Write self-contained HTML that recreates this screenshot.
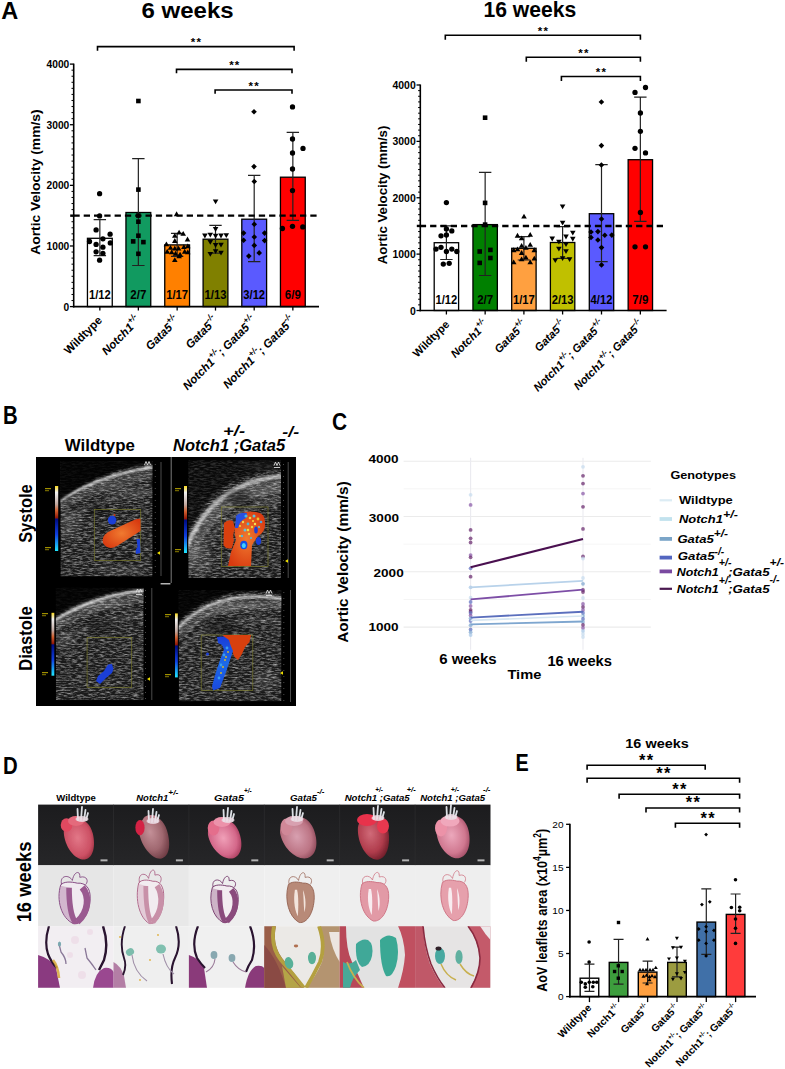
<!DOCTYPE html>
<html><head><meta charset="utf-8"><style>
html,body{margin:0;padding:0;background:#fff;width:785px;height:1069px;overflow:hidden}
svg{display:block}
text{font-family:"Liberation Sans",sans-serif}
</style></head><body>
<svg width="785" height="1069" viewBox="0 0 785 1069">
<rect width="785" height="1069" fill="#fff"/>
<text x="1.3" y="18.7" font-size="23.7" font-weight="bold" textLength="17" lengthAdjust="spacingAndGlyphs">A</text>
<text x="141.5" y="18.3" font-size="21.5" font-weight="bold" textLength="92.1" lengthAdjust="spacingAndGlyphs">6 weeks</text>
<rect x="87.45" y="238.3" width="24.8" height="68.3" fill="#ffffff" stroke="#000" stroke-width="1.3"/>
<rect x="125.95" y="212.5" width="24.8" height="94.1" fill="#119a60" stroke="#000" stroke-width="1.3"/>
<rect x="164.75" y="244.9" width="24.8" height="61.7" fill="#ff8000" stroke="#000" stroke-width="1.3"/>
<rect x="203.1" y="239.2" width="24.8" height="67.4" fill="#808000" stroke="#000" stroke-width="1.3"/>
<rect x="241.8" y="219.2" width="24.8" height="87.4" fill="#5a5aff" stroke="#000" stroke-width="1.3"/>
<rect x="280.45" y="177.2" width="24.8" height="129.4" fill="#ff0000" stroke="#000" stroke-width="1.3"/>
<path d="M99.85 219.7V255.6M93.65 219.7H106.05M93.65 255.6H106.05" stroke="#222" stroke-width="1.2" fill="none"/>
<path d="M138.35 158.6V265.5M132.15 158.6H144.55M132.15 265.5H144.55" stroke="#222" stroke-width="1.2" fill="none"/>
<path d="M177.15 233.4V256.4M170.95 233.4H183.35M170.95 256.4H183.35" stroke="#222" stroke-width="1.2" fill="none"/>
<path d="M215.5 225.3V253.1M209.3 225.3H221.7M209.3 253.1H221.7" stroke="#222" stroke-width="1.2" fill="none"/>
<path d="M254.2 175.4V261.7M248 175.4H260.4M248 261.7H260.4" stroke="#222" stroke-width="1.2" fill="none"/>
<path d="M292.85 132.4V220.4M286.65 132.4H299.05M286.65 220.4H299.05" stroke="#222" stroke-width="1.2" fill="none"/>
<line x1="70.2" y1="215.66" x2="319" y2="215.66" stroke="#000" stroke-width="2.4" stroke-dasharray="6.3 4.0" stroke-dashoffset="7.1"/>
<line x1="70.2" y1="215.66" x2="74.2" y2="215.66" stroke="#000" stroke-width="2.4"/>
<circle cx="99.6" cy="193.7" r="2.65" fill="#000"/>
<circle cx="99.6" cy="215.9" r="2.65" fill="#000"/>
<circle cx="96.1" cy="229.9" r="2.65" fill="#000"/>
<circle cx="110.1" cy="234.2" r="2.65" fill="#000"/>
<circle cx="102.9" cy="238.8" r="2.65" fill="#000"/>
<circle cx="89.5" cy="241.5" r="2.65" fill="#000"/>
<circle cx="110.3" cy="242.9" r="2.65" fill="#000"/>
<circle cx="96.1" cy="244.4" r="2.65" fill="#000"/>
<circle cx="102.9" cy="247.2" r="2.65" fill="#000"/>
<circle cx="96.1" cy="251.8" r="2.65" fill="#000"/>
<circle cx="102.9" cy="253.3" r="2.65" fill="#000"/>
<circle cx="99.6" cy="260.2" r="2.65" fill="#000"/>
<rect x="136.1" y="98.7" width="4.6" height="4.6" fill="#000"/>
<rect x="136.1" y="187.3" width="4.6" height="4.6" fill="#000"/>
<rect x="136.1" y="213.3" width="4.6" height="4.6" fill="#000"/>
<rect x="136.1" y="219.4" width="4.6" height="4.6" fill="#000"/>
<rect x="136.1" y="233.4" width="4.6" height="4.6" fill="#000"/>
<rect x="130.9" y="239.1" width="4.6" height="4.6" fill="#000"/>
<rect x="141.1" y="239.8" width="4.6" height="4.6" fill="#000"/>
<rect x="136.1" y="251.5" width="4.6" height="4.6" fill="#000"/>
<polygon points="176.6,211.28 173.8,216.15 179.4,216.15" fill="#000"/>
<polygon points="179.1,229.68 176.3,234.55 181.9,234.55" fill="#000"/>
<polygon points="183.2,230.88 180.4,235.75 186,235.75" fill="#000"/>
<polygon points="174.8,232.98 172,237.85 177.6,237.85" fill="#000"/>
<polygon points="187.5,236.58 184.7,241.45 190.3,241.45" fill="#000"/>
<polygon points="174.8,238.08 172,242.95 177.6,242.95" fill="#000"/>
<polygon points="166.4,241.38 163.6,246.25 169.2,246.25" fill="#000"/>
<polygon points="170.5,244.98 167.7,249.85 173.3,249.85" fill="#000"/>
<polygon points="174.8,245.68 172,250.55 177.6,250.55" fill="#000"/>
<polygon points="178.6,245.68 175.8,250.55 181.4,250.55" fill="#000"/>
<polygon points="183.9,244.18 181.1,249.05 186.7,249.05" fill="#000"/>
<polygon points="187.8,243.38 185,248.25 190.6,248.25" fill="#000"/>
<polygon points="167.2,248.78 164.4,253.65 170,253.65" fill="#000"/>
<polygon points="171.7,249.48 168.9,254.35 174.5,254.35" fill="#000"/>
<polygon points="175.5,250.78 172.7,255.65 178.3,255.65" fill="#000"/>
<polygon points="180.1,251.78 177.3,256.65 182.9,256.65" fill="#000"/>
<polygon points="184.7,248.78 181.9,253.65 187.5,253.65" fill="#000"/>
<polygon points="187.8,249.48 185,254.35 190.6,254.35" fill="#000"/>
<polygon points="174.8,257.18 172,262.05 177.6,262.05" fill="#000"/>
<polygon points="179.1,253.38 176.3,258.25 181.9,258.25" fill="#000"/>
<polygon points="215.6,204.32 212.8,199.45 218.4,199.45" fill="#000"/>
<polygon points="215.6,231.92 212.8,227.05 218.4,227.05" fill="#000"/>
<polygon points="204.9,238.42 202.1,233.55 207.7,233.55" fill="#000"/>
<polygon points="210.3,237.52 207.5,232.65 213.1,232.65" fill="#000"/>
<polygon points="215.6,238.72 212.8,233.85 218.4,233.85" fill="#000"/>
<polygon points="221,238.42 218.2,233.55 223.8,233.55" fill="#000"/>
<polygon points="226.3,238.02 223.5,233.15 229.1,233.15" fill="#000"/>
<polygon points="210.3,244.82 207.5,239.95 213.1,239.95" fill="#000"/>
<polygon points="215.6,247.92 212.8,243.05 218.4,243.05" fill="#000"/>
<polygon points="221,247.62 218.2,242.75 223.8,242.75" fill="#000"/>
<polygon points="215.6,254.02 212.8,249.15 218.4,249.15" fill="#000"/>
<polygon points="221,255.52 218.2,250.65 223.8,250.65" fill="#000"/>
<polygon points="210.3,256.82 207.5,251.95 213.1,251.95" fill="#000"/>
<polygon points="254,108.9 256.8,111.7 254,114.5 251.2,111.7" fill="#000"/>
<polygon points="254,163.8 256.8,166.6 254,169.4 251.2,166.6" fill="#000"/>
<polygon points="254.3,178.7 257.1,181.5 254.3,184.3 251.5,181.5" fill="#000"/>
<polygon points="254.3,221.5 257.1,224.3 254.3,227.1 251.5,224.3" fill="#000"/>
<polygon points="243.6,230.3 246.4,233.1 243.6,235.9 240.8,233.1" fill="#000"/>
<polygon points="264.6,230.3 267.4,233.1 264.6,235.9 261.8,233.1" fill="#000"/>
<polygon points="254.3,234.2 257.1,237 254.3,239.8 251.5,237" fill="#000"/>
<polygon points="243.6,237.5 246.4,240.3 243.6,243.1 240.8,240.3" fill="#000"/>
<polygon points="264.6,237.8 267.4,240.6 264.6,243.4 261.8,240.6" fill="#000"/>
<polygon points="254.3,242.6 257.1,245.4 254.3,248.2 251.5,245.4" fill="#000"/>
<polygon points="259.2,250.1 262,252.9 259.2,255.7 256.4,252.9" fill="#000"/>
<polygon points="248.8,253.3 251.6,256.1 248.8,258.9 246,256.1" fill="#000"/>
<circle cx="292.5" cy="106.9" r="2.65" fill="#000"/>
<circle cx="292.5" cy="139" r="2.65" fill="#000"/>
<circle cx="303" cy="148.4" r="2.65" fill="#000"/>
<circle cx="292.5" cy="153" r="2.65" fill="#000"/>
<circle cx="292.5" cy="169" r="2.65" fill="#000"/>
<circle cx="292.5" cy="190.6" r="2.65" fill="#000"/>
<circle cx="282.4" cy="228.5" r="2.65" fill="#000"/>
<circle cx="292.5" cy="226.3" r="2.65" fill="#000"/>
<circle cx="302.8" cy="226.9" r="2.65" fill="#000"/>
<line x1="73.7" y1="63.6" x2="73.7" y2="307.4" stroke="#000" stroke-width="1.6"/>
<line x1="72.9" y1="306.6" x2="319" y2="306.6" stroke="#000" stroke-width="1.6"/>
<line x1="69.9" y1="306.6" x2="73.7" y2="306.6" stroke="#000" stroke-width="1.3"/>
<line x1="71.5" y1="300.54" x2="73.7" y2="300.54" stroke="#000" stroke-width="1"/>
<line x1="71.5" y1="294.48" x2="73.7" y2="294.48" stroke="#000" stroke-width="1"/>
<line x1="71.5" y1="288.41" x2="73.7" y2="288.41" stroke="#000" stroke-width="1"/>
<line x1="71.5" y1="282.35" x2="73.7" y2="282.35" stroke="#000" stroke-width="1"/>
<line x1="71.5" y1="276.29" x2="73.7" y2="276.29" stroke="#000" stroke-width="1"/>
<line x1="71.5" y1="270.23" x2="73.7" y2="270.23" stroke="#000" stroke-width="1"/>
<line x1="71.5" y1="264.16" x2="73.7" y2="264.16" stroke="#000" stroke-width="1"/>
<line x1="71.5" y1="258.1" x2="73.7" y2="258.1" stroke="#000" stroke-width="1"/>
<line x1="71.5" y1="252.04" x2="73.7" y2="252.04" stroke="#000" stroke-width="1"/>
<line x1="69.9" y1="245.98" x2="73.7" y2="245.98" stroke="#000" stroke-width="1.3"/>
<line x1="71.5" y1="239.91" x2="73.7" y2="239.91" stroke="#000" stroke-width="1"/>
<line x1="71.5" y1="233.85" x2="73.7" y2="233.85" stroke="#000" stroke-width="1"/>
<line x1="71.5" y1="227.79" x2="73.7" y2="227.79" stroke="#000" stroke-width="1"/>
<line x1="71.5" y1="221.73" x2="73.7" y2="221.73" stroke="#000" stroke-width="1"/>
<line x1="71.5" y1="215.66" x2="73.7" y2="215.66" stroke="#000" stroke-width="1"/>
<line x1="71.5" y1="209.6" x2="73.7" y2="209.6" stroke="#000" stroke-width="1"/>
<line x1="71.5" y1="203.54" x2="73.7" y2="203.54" stroke="#000" stroke-width="1"/>
<line x1="71.5" y1="197.48" x2="73.7" y2="197.48" stroke="#000" stroke-width="1"/>
<line x1="71.5" y1="191.41" x2="73.7" y2="191.41" stroke="#000" stroke-width="1"/>
<line x1="69.9" y1="185.35" x2="73.7" y2="185.35" stroke="#000" stroke-width="1.3"/>
<line x1="71.5" y1="179.29" x2="73.7" y2="179.29" stroke="#000" stroke-width="1"/>
<line x1="71.5" y1="173.23" x2="73.7" y2="173.23" stroke="#000" stroke-width="1"/>
<line x1="71.5" y1="167.16" x2="73.7" y2="167.16" stroke="#000" stroke-width="1"/>
<line x1="71.5" y1="161.1" x2="73.7" y2="161.1" stroke="#000" stroke-width="1"/>
<line x1="71.5" y1="155.04" x2="73.7" y2="155.04" stroke="#000" stroke-width="1"/>
<line x1="71.5" y1="148.98" x2="73.7" y2="148.98" stroke="#000" stroke-width="1"/>
<line x1="71.5" y1="142.91" x2="73.7" y2="142.91" stroke="#000" stroke-width="1"/>
<line x1="71.5" y1="136.85" x2="73.7" y2="136.85" stroke="#000" stroke-width="1"/>
<line x1="71.5" y1="130.79" x2="73.7" y2="130.79" stroke="#000" stroke-width="1"/>
<line x1="69.9" y1="124.72" x2="73.7" y2="124.72" stroke="#000" stroke-width="1.3"/>
<line x1="71.5" y1="118.66" x2="73.7" y2="118.66" stroke="#000" stroke-width="1"/>
<line x1="71.5" y1="112.6" x2="73.7" y2="112.6" stroke="#000" stroke-width="1"/>
<line x1="71.5" y1="106.54" x2="73.7" y2="106.54" stroke="#000" stroke-width="1"/>
<line x1="71.5" y1="100.47" x2="73.7" y2="100.47" stroke="#000" stroke-width="1"/>
<line x1="71.5" y1="94.41" x2="73.7" y2="94.41" stroke="#000" stroke-width="1"/>
<line x1="71.5" y1="88.35" x2="73.7" y2="88.35" stroke="#000" stroke-width="1"/>
<line x1="71.5" y1="82.29" x2="73.7" y2="82.29" stroke="#000" stroke-width="1"/>
<line x1="71.5" y1="76.22" x2="73.7" y2="76.22" stroke="#000" stroke-width="1"/>
<line x1="71.5" y1="70.16" x2="73.7" y2="70.16" stroke="#000" stroke-width="1"/>
<line x1="69.9" y1="64.1" x2="73.7" y2="64.1" stroke="#000" stroke-width="1.3"/>
<line x1="99.85" y1="306.6" x2="99.85" y2="310.6" stroke="#000" stroke-width="1.3"/>
<line x1="138.35" y1="306.6" x2="138.35" y2="310.6" stroke="#000" stroke-width="1.3"/>
<line x1="177.15" y1="306.6" x2="177.15" y2="310.6" stroke="#000" stroke-width="1.3"/>
<line x1="215.5" y1="306.6" x2="215.5" y2="310.6" stroke="#000" stroke-width="1.3"/>
<line x1="254.2" y1="306.6" x2="254.2" y2="310.6" stroke="#000" stroke-width="1.3"/>
<line x1="292.85" y1="306.6" x2="292.85" y2="310.6" stroke="#000" stroke-width="1.3"/>
<text x="69.3" y="310.63" font-size="11.2" font-weight="bold" text-anchor="end" textLength="5.68" lengthAdjust="spacingAndGlyphs">0</text>
<text x="69.3" y="250.01" font-size="11.2" font-weight="bold" text-anchor="end" textLength="22.72" lengthAdjust="spacingAndGlyphs">1000</text>
<text x="69.3" y="189.38" font-size="11.2" font-weight="bold" text-anchor="end" textLength="22.72" lengthAdjust="spacingAndGlyphs">2000</text>
<text x="69.3" y="128.76" font-size="11.2" font-weight="bold" text-anchor="end" textLength="22.72" lengthAdjust="spacingAndGlyphs">3000</text>
<text x="69.3" y="68.13" font-size="11.2" font-weight="bold" text-anchor="end" textLength="22.72" lengthAdjust="spacingAndGlyphs">4000</text>
<polyline points="97.5,50.8 97.5,46.6 294.1,46.6 294.1,50.8" fill="none" stroke="#000" stroke-width="1.6"/>
<text x="195.8" y="46.3" font-size="11.5" font-weight="bold" text-anchor="middle" textLength="10.2" lengthAdjust="spacing">**</text>
<polyline points="176.5,73.2 176.5,69.4 292,69.4 292,73.2" fill="none" stroke="#000" stroke-width="1.6"/>
<text x="234.25" y="69.1" font-size="11.5" font-weight="bold" text-anchor="middle" textLength="10.2" lengthAdjust="spacing">**</text>
<polyline points="215.1,93.8 215.1,90 292,90 292,93.8" fill="none" stroke="#000" stroke-width="1.6"/>
<text x="253.55" y="89.7" font-size="11.5" font-weight="bold" text-anchor="middle" textLength="10.2" lengthAdjust="spacing">**</text>
<text x="0" y="0" font-size="12.8" font-weight="bold" text-anchor="middle" textLength="145.4" lengthAdjust="spacingAndGlyphs" transform="translate(40.2,182.1) rotate(-90)">Aortic Velocity (mm/s)</text>
<text x="99.85" y="298.8" font-size="12" font-weight="bold" text-anchor="middle" textLength="21.8" lengthAdjust="spacingAndGlyphs">1/12</text>
<text x="138.35" y="298.8" font-size="12" font-weight="bold" text-anchor="middle" textLength="16" lengthAdjust="spacingAndGlyphs">2/7</text>
<text x="177.15" y="298.8" font-size="12" font-weight="bold" text-anchor="middle" textLength="21.8" lengthAdjust="spacingAndGlyphs">1/17</text>
<text x="215.5" y="298.8" font-size="12" font-weight="bold" text-anchor="middle" textLength="21.8" lengthAdjust="spacingAndGlyphs">1/13</text>
<text x="254.2" y="298.8" font-size="12" font-weight="bold" text-anchor="middle" textLength="21.8" lengthAdjust="spacingAndGlyphs">3/12</text>
<text x="292.85" y="298.8" font-size="12" font-weight="bold" text-anchor="middle" textLength="16" lengthAdjust="spacingAndGlyphs">6/9</text>
<text x="0" y="0" font-size="11.6" font-weight="bold" font-style="normal" text-anchor="end" transform="translate(102.85,321) rotate(-45)"><tspan>Wildtype</tspan></text>
<text x="0" y="0" font-size="11.6" font-weight="bold" font-style="italic" text-anchor="end" transform="translate(141.35,321) rotate(-45)"><tspan>Notch1</tspan><tspan font-size="8.35" dy="-5.8">+/-</tspan></text>
<text x="0" y="0" font-size="11.6" font-weight="bold" font-style="italic" text-anchor="end" transform="translate(180.15,321) rotate(-45)"><tspan>Gata5</tspan><tspan font-size="8.35" dy="-5.8">+/-</tspan></text>
<text x="0" y="0" font-size="11.6" font-weight="bold" font-style="italic" text-anchor="end" transform="translate(218.5,321) rotate(-45)"><tspan>Gata5</tspan><tspan font-size="8.35" dy="-5.8">-/-</tspan></text>
<text x="0" y="0" font-size="11.6" font-weight="bold" font-style="italic" text-anchor="end" transform="translate(257.2,321) rotate(-45)"><tspan>Notch1</tspan><tspan font-size="8.35" dy="-5.8">+/-</tspan><tspan font-size="11.6" dy="5.8">; Gata5</tspan><tspan font-size="8.35" dy="-5.8">+/-</tspan></text>
<text x="0" y="0" font-size="11.6" font-weight="bold" font-style="italic" text-anchor="end" transform="translate(295.85,321) rotate(-45)"><tspan>Notch1</tspan><tspan font-size="8.35" dy="-5.8">+/-</tspan><tspan font-size="11.6" dy="5.8">; Gata5</tspan><tspan font-size="8.35" dy="-5.8">-/-</tspan></text>
<text x="483.4" y="17" font-size="21.5" font-weight="bold" textLength="92.8" lengthAdjust="spacingAndGlyphs">16 weeks</text>
<rect x="434.2" y="242.7" width="24.4" height="67.8" fill="#ffffff" stroke="#000" stroke-width="1.3"/>
<rect x="472.95" y="224.6" width="24.4" height="85.9" fill="#008000" stroke="#000" stroke-width="1.3"/>
<rect x="511.7" y="248.3" width="24.4" height="62.2" fill="#ffa040" stroke="#000" stroke-width="1.3"/>
<rect x="550.4" y="242.5" width="24.4" height="68" fill="#c0c000" stroke="#000" stroke-width="1.3"/>
<rect x="589.3" y="213.7" width="24.4" height="96.8" fill="#5a5aff" stroke="#000" stroke-width="1.3"/>
<rect x="628.15" y="159.7" width="24.4" height="150.8" fill="#ff0000" stroke="#000" stroke-width="1.3"/>
<path d="M446.4 225.9V259.5M440.2 225.9H452.6M440.2 259.5H452.6" stroke="#222" stroke-width="1.2" fill="none"/>
<path d="M485.15 172.3V275.5M478.95 172.3H491.35M478.95 275.5H491.35" stroke="#222" stroke-width="1.2" fill="none"/>
<path d="M523.9 236.6V260M517.7 236.6H530.1M517.7 260H530.1" stroke="#222" stroke-width="1.2" fill="none"/>
<path d="M562.6 226.7V258.3M556.4 226.7H568.8M556.4 258.3H568.8" stroke="#222" stroke-width="1.2" fill="none"/>
<path d="M601.5 164.6V261.6M595.3 164.6H607.7M595.3 261.6H607.7" stroke="#222" stroke-width="1.2" fill="none"/>
<path d="M640.35 97.2V221.3M634.15 97.2H646.55M634.15 221.3H646.55" stroke="#222" stroke-width="1.2" fill="none"/>
<line x1="416.8" y1="225.94" x2="666.6" y2="225.94" stroke="#000" stroke-width="2.4" stroke-dasharray="6.3 4.0" stroke-dashoffset="7.3"/>
<line x1="416.8" y1="225.94" x2="420.8" y2="225.94" stroke="#000" stroke-width="2.4"/>
<circle cx="446.4" cy="202.6" r="2.65" fill="#000"/>
<circle cx="446.4" cy="228.9" r="2.65" fill="#000"/>
<circle cx="451.8" cy="230.9" r="2.65" fill="#000"/>
<circle cx="441" cy="235.8" r="2.65" fill="#000"/>
<circle cx="446.4" cy="235" r="2.65" fill="#000"/>
<circle cx="441" cy="247.3" r="2.65" fill="#000"/>
<circle cx="436" cy="249.1" r="2.65" fill="#000"/>
<circle cx="451.8" cy="249.1" r="2.65" fill="#000"/>
<circle cx="446.4" cy="251.5" r="2.65" fill="#000"/>
<circle cx="456.8" cy="251.5" r="2.65" fill="#000"/>
<circle cx="443.3" cy="264.1" r="2.65" fill="#000"/>
<circle cx="449.2" cy="263.3" r="2.65" fill="#000"/>
<rect x="482.8" y="115.4" width="4.6" height="4.6" fill="#000"/>
<rect x="482.8" y="200.6" width="4.6" height="4.6" fill="#000"/>
<rect x="482.8" y="222.3" width="4.6" height="4.6" fill="#000"/>
<rect x="477.4" y="249.2" width="4.6" height="4.6" fill="#000"/>
<rect x="488.1" y="247.6" width="4.6" height="4.6" fill="#000"/>
<rect x="488.1" y="255.7" width="4.6" height="4.6" fill="#000"/>
<rect x="477.4" y="260.6" width="4.6" height="4.6" fill="#000"/>
<polygon points="524,213.68 521.2,218.55 526.8,218.55" fill="#000"/>
<polygon points="517.5,232.78 514.7,237.65 520.3,237.65" fill="#000"/>
<polygon points="530.2,231.98 527.4,236.85 533,236.85" fill="#000"/>
<polygon points="521.6,235.38 518.8,240.25 524.4,240.25" fill="#000"/>
<polygon points="521.6,242.98 518.8,247.85 524.4,247.85" fill="#000"/>
<polygon points="530.2,241.98 527.4,246.85 533,246.85" fill="#000"/>
<polygon points="513.7,247.28 510.9,252.15 516.5,252.15" fill="#000"/>
<polygon points="517.5,246.48 514.7,251.35 520.3,251.35" fill="#000"/>
<polygon points="525.9,244.98 523.1,249.85 528.7,249.85" fill="#000"/>
<polygon points="534.3,247.28 531.5,252.15 537.1,252.15" fill="#000"/>
<polygon points="521.6,250.08 518.8,254.95 524.4,254.95" fill="#000"/>
<polygon points="525.9,254.68 523.1,259.55 528.7,259.55" fill="#000"/>
<polygon points="521.6,256.48 518.8,261.35 524.4,261.35" fill="#000"/>
<polygon points="534.3,255.68 531.5,260.55 537.1,260.55" fill="#000"/>
<polygon points="513.7,259.48 510.9,264.35 516.5,264.35" fill="#000"/>
<polygon points="530.2,259.48 527.4,264.35 533,264.35" fill="#000"/>
<polygon points="562.6,209.32 559.8,204.45 565.4,204.45" fill="#000"/>
<polygon points="562.6,225.62 559.8,220.75 565.4,220.75" fill="#000"/>
<polygon points="572.8,235.62 570,230.75 575.6,230.75" fill="#000"/>
<polygon points="566,239.42 563.2,234.55 568.8,234.55" fill="#000"/>
<polygon points="552.2,241.42 549.4,236.55 555,236.55" fill="#000"/>
<polygon points="572.8,241.72 570,236.85 575.6,236.85" fill="#000"/>
<polygon points="558.9,244.52 556.1,239.65 561.7,239.65" fill="#000"/>
<polygon points="566,247.02 563.2,242.15 568.8,242.15" fill="#000"/>
<polygon points="558.9,251.62 556.1,246.75 561.7,246.75" fill="#000"/>
<polygon points="566,254.12 563.2,249.25 568.8,249.25" fill="#000"/>
<polygon points="555.3,263.12 552.5,258.25 558.1,258.25" fill="#000"/>
<polygon points="562.6,261.12 559.8,256.25 565.4,256.25" fill="#000"/>
<polygon points="569.6,262.12 566.8,257.25 572.4,257.25" fill="#000"/>
<polygon points="601.4,99.2 604.2,102 601.4,104.8 598.6,102" fill="#000"/>
<polygon points="601.4,142.8 604.2,145.6 601.4,148.4 598.6,145.6" fill="#000"/>
<polygon points="601.4,162.2 604.2,165 601.4,167.8 598.6,165" fill="#000"/>
<polygon points="601.5,216.2 604.3,219 601.5,221.8 598.7,219" fill="#000"/>
<polygon points="591,229.2 593.8,232 591,234.8 588.2,232" fill="#000"/>
<polygon points="597.9,228.8 600.7,231.6 597.9,234.4 595.1,231.6" fill="#000"/>
<polygon points="604.8,232.5 607.6,235.3 604.8,238.1 602,235.3" fill="#000"/>
<polygon points="611.8,232.3 614.6,235.1 611.8,237.9 609,235.1" fill="#000"/>
<polygon points="591,234.6 593.8,237.4 591,240.2 588.2,237.4" fill="#000"/>
<polygon points="597.9,237.2 600.7,240 597.9,242.8 595.1,240" fill="#000"/>
<polygon points="601.5,244.8 604.3,247.6 601.5,250.4 598.7,247.6" fill="#000"/>
<polygon points="601.5,262.1 604.3,264.9 601.5,267.7 598.7,264.9" fill="#000"/>
<circle cx="635" cy="92.4" r="2.65" fill="#000"/>
<circle cx="645.5" cy="87.5" r="2.65" fill="#000"/>
<circle cx="640.4" cy="113" r="2.65" fill="#000"/>
<circle cx="640.4" cy="131.3" r="2.65" fill="#000"/>
<circle cx="635" cy="148.3" r="2.65" fill="#000"/>
<circle cx="645.5" cy="152.9" r="2.65" fill="#000"/>
<circle cx="640.4" cy="212.5" r="2.65" fill="#000"/>
<circle cx="635" cy="246.8" r="2.65" fill="#000"/>
<circle cx="645.5" cy="246.8" r="2.65" fill="#000"/>
<line x1="420.3" y1="84.5" x2="420.3" y2="311.3" stroke="#000" stroke-width="1.6"/>
<line x1="419.5" y1="310.5" x2="666.6" y2="310.5" stroke="#000" stroke-width="1.6"/>
<line x1="416.5" y1="310.5" x2="420.3" y2="310.5" stroke="#000" stroke-width="1.3"/>
<line x1="418.1" y1="304.86" x2="420.3" y2="304.86" stroke="#000" stroke-width="1"/>
<line x1="418.1" y1="299.23" x2="420.3" y2="299.23" stroke="#000" stroke-width="1"/>
<line x1="418.1" y1="293.59" x2="420.3" y2="293.59" stroke="#000" stroke-width="1"/>
<line x1="418.1" y1="287.95" x2="420.3" y2="287.95" stroke="#000" stroke-width="1"/>
<line x1="418.1" y1="282.31" x2="420.3" y2="282.31" stroke="#000" stroke-width="1"/>
<line x1="418.1" y1="276.68" x2="420.3" y2="276.68" stroke="#000" stroke-width="1"/>
<line x1="418.1" y1="271.04" x2="420.3" y2="271.04" stroke="#000" stroke-width="1"/>
<line x1="418.1" y1="265.4" x2="420.3" y2="265.4" stroke="#000" stroke-width="1"/>
<line x1="418.1" y1="259.76" x2="420.3" y2="259.76" stroke="#000" stroke-width="1"/>
<line x1="416.5" y1="254.12" x2="420.3" y2="254.12" stroke="#000" stroke-width="1.3"/>
<line x1="418.1" y1="248.49" x2="420.3" y2="248.49" stroke="#000" stroke-width="1"/>
<line x1="418.1" y1="242.85" x2="420.3" y2="242.85" stroke="#000" stroke-width="1"/>
<line x1="418.1" y1="237.21" x2="420.3" y2="237.21" stroke="#000" stroke-width="1"/>
<line x1="418.1" y1="231.57" x2="420.3" y2="231.57" stroke="#000" stroke-width="1"/>
<line x1="418.1" y1="225.94" x2="420.3" y2="225.94" stroke="#000" stroke-width="1"/>
<line x1="418.1" y1="220.3" x2="420.3" y2="220.3" stroke="#000" stroke-width="1"/>
<line x1="418.1" y1="214.66" x2="420.3" y2="214.66" stroke="#000" stroke-width="1"/>
<line x1="418.1" y1="209.02" x2="420.3" y2="209.02" stroke="#000" stroke-width="1"/>
<line x1="418.1" y1="203.39" x2="420.3" y2="203.39" stroke="#000" stroke-width="1"/>
<line x1="416.5" y1="197.75" x2="420.3" y2="197.75" stroke="#000" stroke-width="1.3"/>
<line x1="418.1" y1="192.11" x2="420.3" y2="192.11" stroke="#000" stroke-width="1"/>
<line x1="418.1" y1="186.47" x2="420.3" y2="186.47" stroke="#000" stroke-width="1"/>
<line x1="418.1" y1="180.84" x2="420.3" y2="180.84" stroke="#000" stroke-width="1"/>
<line x1="418.1" y1="175.2" x2="420.3" y2="175.2" stroke="#000" stroke-width="1"/>
<line x1="418.1" y1="169.56" x2="420.3" y2="169.56" stroke="#000" stroke-width="1"/>
<line x1="418.1" y1="163.92" x2="420.3" y2="163.92" stroke="#000" stroke-width="1"/>
<line x1="418.1" y1="158.29" x2="420.3" y2="158.29" stroke="#000" stroke-width="1"/>
<line x1="418.1" y1="152.65" x2="420.3" y2="152.65" stroke="#000" stroke-width="1"/>
<line x1="418.1" y1="147.01" x2="420.3" y2="147.01" stroke="#000" stroke-width="1"/>
<line x1="416.5" y1="141.38" x2="420.3" y2="141.38" stroke="#000" stroke-width="1.3"/>
<line x1="418.1" y1="135.74" x2="420.3" y2="135.74" stroke="#000" stroke-width="1"/>
<line x1="418.1" y1="130.1" x2="420.3" y2="130.1" stroke="#000" stroke-width="1"/>
<line x1="418.1" y1="124.46" x2="420.3" y2="124.46" stroke="#000" stroke-width="1"/>
<line x1="418.1" y1="118.82" x2="420.3" y2="118.82" stroke="#000" stroke-width="1"/>
<line x1="418.1" y1="113.19" x2="420.3" y2="113.19" stroke="#000" stroke-width="1"/>
<line x1="418.1" y1="107.55" x2="420.3" y2="107.55" stroke="#000" stroke-width="1"/>
<line x1="418.1" y1="101.91" x2="420.3" y2="101.91" stroke="#000" stroke-width="1"/>
<line x1="418.1" y1="96.28" x2="420.3" y2="96.28" stroke="#000" stroke-width="1"/>
<line x1="418.1" y1="90.64" x2="420.3" y2="90.64" stroke="#000" stroke-width="1"/>
<line x1="416.5" y1="85" x2="420.3" y2="85" stroke="#000" stroke-width="1.3"/>
<line x1="446.4" y1="310.5" x2="446.4" y2="314.5" stroke="#000" stroke-width="1.3"/>
<line x1="485.15" y1="310.5" x2="485.15" y2="314.5" stroke="#000" stroke-width="1.3"/>
<line x1="523.9" y1="310.5" x2="523.9" y2="314.5" stroke="#000" stroke-width="1.3"/>
<line x1="562.6" y1="310.5" x2="562.6" y2="314.5" stroke="#000" stroke-width="1.3"/>
<line x1="601.5" y1="310.5" x2="601.5" y2="314.5" stroke="#000" stroke-width="1.3"/>
<line x1="640.35" y1="310.5" x2="640.35" y2="314.5" stroke="#000" stroke-width="1.3"/>
<text x="415.7" y="314.53" font-size="11.2" font-weight="bold" text-anchor="end" textLength="5.8" lengthAdjust="spacingAndGlyphs">0</text>
<text x="415.7" y="258.16" font-size="11.2" font-weight="bold" text-anchor="end" textLength="23.2" lengthAdjust="spacingAndGlyphs">1000</text>
<text x="415.7" y="201.78" font-size="11.2" font-weight="bold" text-anchor="end" textLength="23.2" lengthAdjust="spacingAndGlyphs">2000</text>
<text x="415.7" y="145.41" font-size="11.2" font-weight="bold" text-anchor="end" textLength="23.2" lengthAdjust="spacingAndGlyphs">3000</text>
<text x="415.7" y="89.03" font-size="11.2" font-weight="bold" text-anchor="end" textLength="23.2" lengthAdjust="spacingAndGlyphs">4000</text>
<polyline points="445.3,39.8 445.3,35.3 640.4,35.3 640.4,39.8" fill="none" stroke="#000" stroke-width="1.6"/>
<text x="542.85" y="35" font-size="11.5" font-weight="bold" text-anchor="middle" textLength="10.2" lengthAdjust="spacing">**</text>
<polyline points="526.3,61.7 526.3,57.2 640.4,57.2 640.4,61.7" fill="none" stroke="#000" stroke-width="1.6"/>
<text x="583.35" y="56.9" font-size="11.5" font-weight="bold" text-anchor="middle" textLength="10.2" lengthAdjust="spacing">**</text>
<polyline points="561.4,81 561.4,76.5 640.4,76.5 640.4,81" fill="none" stroke="#000" stroke-width="1.6"/>
<text x="600.9" y="76.2" font-size="11.5" font-weight="bold" text-anchor="middle" textLength="10.2" lengthAdjust="spacing">**</text>
<text x="0" y="0" font-size="12.4" font-weight="bold" text-anchor="middle" textLength="138.6" lengthAdjust="spacingAndGlyphs" transform="translate(386.6,195) rotate(-90)">Aortic Velocity (mm/s)</text>
<text x="446.4" y="304.4" font-size="12" font-weight="bold" text-anchor="middle" textLength="21.8" lengthAdjust="spacingAndGlyphs">1/12</text>
<text x="485.15" y="304.4" font-size="12" font-weight="bold" text-anchor="middle" textLength="16" lengthAdjust="spacingAndGlyphs">2/7</text>
<text x="523.9" y="304.4" font-size="12" font-weight="bold" text-anchor="middle" textLength="21.8" lengthAdjust="spacingAndGlyphs">1/17</text>
<text x="562.6" y="304.4" font-size="12" font-weight="bold" text-anchor="middle" textLength="21.8" lengthAdjust="spacingAndGlyphs">2/13</text>
<text x="601.5" y="304.4" font-size="12" font-weight="bold" text-anchor="middle" textLength="21.8" lengthAdjust="spacingAndGlyphs">4/12</text>
<text x="640.35" y="304.4" font-size="12" font-weight="bold" text-anchor="middle" textLength="16" lengthAdjust="spacingAndGlyphs">7/9</text>
<text x="0" y="0" font-size="11.2" font-weight="bold" font-style="normal" text-anchor="end" transform="translate(450.2,325) rotate(-45)"><tspan>Wildtype</tspan></text>
<text x="0" y="0" font-size="11.2" font-weight="bold" font-style="italic" text-anchor="end" transform="translate(488.95,325) rotate(-45)"><tspan>Notch1</tspan><tspan font-size="8.06" dy="-5.6">+/-</tspan></text>
<text x="0" y="0" font-size="11.2" font-weight="bold" font-style="italic" text-anchor="end" transform="translate(527.7,325) rotate(-45)"><tspan>Gata5</tspan><tspan font-size="8.06" dy="-5.6">+/-</tspan></text>
<text x="0" y="0" font-size="11.2" font-weight="bold" font-style="italic" text-anchor="end" transform="translate(566.4,325) rotate(-45)"><tspan>Gata5</tspan><tspan font-size="8.06" dy="-5.6">-/-</tspan></text>
<text x="0" y="0" font-size="11.2" font-weight="bold" font-style="italic" text-anchor="end" transform="translate(605.3,325) rotate(-45)"><tspan>Notch1</tspan><tspan font-size="8.06" dy="-5.6">+/-</tspan><tspan font-size="11.2" dy="5.6">; Gata5</tspan><tspan font-size="8.06" dy="-5.6">+/-</tspan></text>
<text x="0" y="0" font-size="11.2" font-weight="bold" font-style="italic" text-anchor="end" transform="translate(644.15,325) rotate(-45)"><tspan>Notch1</tspan><tspan font-size="8.06" dy="-5.6">+/-</tspan><tspan font-size="11.2" dy="5.6">; Gata5</tspan><tspan font-size="8.06" dy="-5.6">-/-</tspan></text>
<text x="3.1" y="423.8" font-size="25" font-weight="bold" textLength="14.7" lengthAdjust="spacingAndGlyphs">B</text>
<text x="64.8" y="451.4" font-size="17.2" font-weight="bold" textLength="70.1" lengthAdjust="spacingAndGlyphs">Wildtype</text>
<text x="173" y="450.9" font-size="16.8" font-weight="bold" font-style="italic" textLength="112.2" lengthAdjust="spacingAndGlyphs">Notch1 ;Gata5</text>
<text x="223.1" y="435.6" font-size="15" font-weight="bold" font-style="italic" textLength="21.9" lengthAdjust="spacingAndGlyphs">+/-</text>
<text x="282.3" y="437" font-size="15" font-weight="bold" font-style="italic" textLength="16.8" lengthAdjust="spacingAndGlyphs">-/-</text>
<text x="0" y="0" font-size="18" font-weight="bold" text-anchor="middle" textLength="58.5" lengthAdjust="spacingAndGlyphs" transform="translate(31.6,513.6) rotate(-90)">Systole</text>
<text x="0" y="0" font-size="18.5" font-weight="bold" text-anchor="middle" textLength="64.4" lengthAdjust="spacingAndGlyphs" transform="translate(32.3,638.6) rotate(-90)">Diastole</text>
<defs>
<linearGradient id="cbar" x1="0" y1="0" x2="0" y2="1">
<stop offset="0" stop-color="#f8d820"/><stop offset="0.1" stop-color="#f0f0f0"/><stop offset="0.28" stop-color="#c0a8a0"/><stop offset="0.38" stop-color="#d06030"/><stop offset="0.49" stop-color="#901808"/>
<stop offset="0.51" stop-color="#000c80"/><stop offset="0.75" stop-color="#1040e0"/><stop offset="1" stop-color="#20e8ff"/></linearGradient>
<filter id="spk" x="0" y="0" width="1" height="1" color-interpolation-filters="sRGB">
<feTurbulence type="fractalNoise" baseFrequency="0.18 0.7" numOctaves="3" seed="7" result="n"/>
<feColorMatrix in="n" type="matrix" values="0 0 0 0 1  0 0 0 0 1  0 0 0 0 1  1.2 0 0 0 -0.48"/>
<feComposite in2="SourceGraphic" operator="in"/>
</filter>
<filter id="spk2" x="0" y="0" width="1" height="1" color-interpolation-filters="sRGB">
<feTurbulence type="fractalNoise" baseFrequency="0.1 0.5" numOctaves="3" seed="19" result="n"/>
<feColorMatrix in="n" type="matrix" values="0 0 0 0 1  0 0 0 0 1  0 0 0 0 1  2.4 0 0 0 -1.0"/>
<feComposite in2="SourceGraphic" operator="in"/>
</filter>
<filter id="blur3"><feGaussianBlur stdDeviation="3.5"/></filter>
<filter id="blur1"><feGaussianBlur stdDeviation="1.2"/></filter>
<filter id="blur2"><feGaussianBlur stdDeviation="2.2"/></filter>
<radialGradient id="flowO" cx="0.5" cy="0.5" r="0.6"><stop offset="0" stop-color="#f07a30"/><stop offset="1" stop-color="#d83a10"/></radialGradient>
<linearGradient id="flowB" x1="0" y1="0" x2="0" y2="1"><stop offset="0" stop-color="#1a3cd8"/><stop offset="0.5" stop-color="#1e6ae8"/><stop offset="1" stop-color="#1848e0"/></linearGradient>
</defs>
<rect x="36" y="457" width="260" height="249" fill="#000"/>
<clipPath id="c1"><rect x="60.4" y="461" width="92.2" height="115.5"/></clipPath>
<g clip-path="url(#c1)">
<rect x="60.4" y="461" width="92.2" height="115.5" fill="#1a1a1a"/>
<rect x="60.4" y="461" width="92.2" height="115.5" fill="#fff" filter="url(#spk)"/>
<path d="M58 502 Q95 476 154 467" fill="none" stroke="#fff" stroke-width="2.6" opacity="0.8" filter="url(#blur1)"/>
<path d="M58 508 Q97 482 154 474" fill="none" stroke="#fff" stroke-width="9" opacity="0.14" filter="url(#blur1)"/>
<path d="M58 524 Q97 498 154 492" fill="none" stroke="#fff" stroke-width="6" opacity="0.08" filter="url(#blur1)"/>
<ellipse cx="70" cy="525" rx="10" ry="14" fill="#fff" opacity="0.12" filter="url(#blur3)"/>
<ellipse cx="125" cy="490" rx="25" ry="5" fill="#fff" opacity="0.12" filter="url(#blur3)"/>
<ellipse cx="120" cy="570" rx="25" ry="5" fill="#fff" opacity="0.1" filter="url(#blur3)"/>
<ellipse cx="97" cy="509" rx="10" ry="6" fill="#000" opacity="0.5" filter="url(#blur3)"/>
<ellipse cx="120" cy="560" rx="12" ry="6" fill="#000" opacity="0.2" filter="url(#blur3)"/>
<path d="M58 458 L154 458 L154 463 Q95 471 58 502 Z" fill="#000" opacity="0.88" filter="url(#blur1)"/>

</g>
<clipPath id="c2"><rect x="188.3" y="460.4" width="92.7" height="117.6"/></clipPath>
<g clip-path="url(#c2)">
<rect x="188.3" y="460.4" width="92.7" height="117.6" fill="#1a1a1a"/>
<rect x="188.3" y="460.4" width="92.7" height="117.6" fill="#fff" filter="url(#spk)"/>
<path d="M186 548 Q212 482 283 476" fill="none" stroke="#fff" stroke-width="4.5" opacity="0.62" filter="url(#blur1)"/>
<path d="M186 558 Q216 490 283 486" fill="none" stroke="#fff" stroke-width="13" opacity="0.2" filter="url(#blur1)"/>
<path d="M186 575 Q220 505 283 500" fill="none" stroke="#fff" stroke-width="6" opacity="0.1" filter="url(#blur1)"/>
<ellipse cx="200" cy="560" rx="12" ry="15" fill="#fff" opacity="0.12" filter="url(#blur3)"/>
<ellipse cx="265" cy="495" rx="15" ry="6" fill="#fff" opacity="0.1" filter="url(#blur3)"/>
<ellipse cx="262" cy="466" rx="18" ry="4" fill="#fff" opacity="0.15" filter="url(#blur3)"/>
<ellipse cx="238" cy="498" rx="12" ry="7" fill="#000" opacity="0.5" filter="url(#blur3)"/>
<path d="M186 458 L283 458 L283 469 Q210 473 186 538 Z" fill="#000" opacity="0.62" filter="url(#blur1)"/>

</g>
<clipPath id="c3"><rect x="55.8" y="587.8" width="87.9" height="112.4"/></clipPath>
<g clip-path="url(#c3)">
<rect x="55.8" y="587.8" width="87.9" height="112.4" fill="#1a1a1a"/>
<rect x="55.8" y="587.8" width="87.9" height="112.4" fill="#fff" filter="url(#spk)"/>
<path d="M54 621 Q92 596 146 590" fill="none" stroke="#fff" stroke-width="2.8" opacity="0.75" filter="url(#blur1)"/>
<path d="M54 628 Q94 602 146 597" fill="none" stroke="#fff" stroke-width="9" opacity="0.15" filter="url(#blur1)"/>
<path d="M54 645 Q94 620 146 615" fill="none" stroke="#fff" stroke-width="6" opacity="0.08" filter="url(#blur1)"/>
<ellipse cx="100" cy="605" rx="30" ry="5" fill="#fff" opacity="0.12" filter="url(#blur3)"/>
<ellipse cx="65" cy="640" rx="8" ry="10" fill="#fff" opacity="0.1" filter="url(#blur3)"/>
<ellipse cx="100" cy="626" rx="14" ry="6" fill="#000" opacity="0.45" filter="url(#blur3)"/>
<path d="M54 585 L146 585 L146 588 Q92 592 54 617 Z" fill="#000" opacity="0.88" filter="url(#blur1)"/>

</g>
<clipPath id="c4"><rect x="178.7" y="590.4" width="102.8" height="110.9"/></clipPath>
<g clip-path="url(#c4)">
<rect x="178.7" y="590.4" width="102.8" height="110.9" fill="#1a1a1a"/>
<rect x="178.7" y="590.4" width="102.8" height="110.9" fill="#fff" filter="url(#spk)"/>
<path d="M177 629 Q215 588 283 599" fill="none" stroke="#fff" stroke-width="2.8" opacity="0.75" filter="url(#blur1)"/>
<path d="M177 636 Q217 595 283 606" fill="none" stroke="#fff" stroke-width="9" opacity="0.16" filter="url(#blur1)"/>
<path d="M177 652 Q217 612 283 622" fill="none" stroke="#fff" stroke-width="6" opacity="0.08" filter="url(#blur1)"/>
<ellipse cx="235" cy="608" rx="30" ry="5" fill="#fff" opacity="0.12" filter="url(#blur3)"/>
<ellipse cx="265" cy="680" rx="12" ry="10" fill="#fff" opacity="0.1" filter="url(#blur3)"/>
<ellipse cx="222" cy="626" rx="16" ry="7" fill="#000" opacity="0.45" filter="url(#blur3)"/>
<path d="M177 588 L283 588 L283 594 Q215 582 177 624 Z" fill="#000" opacity="0.88" filter="url(#blur1)"/>

</g>
<rect x="55" y="486" width="3.2" height="65" fill="url(#cbar)"/>
<rect x="184" y="486" width="3" height="67" fill="url(#cbar)"/>
<rect x="51.5" y="612.8" width="2.8" height="62.9" fill="url(#cbar)"/>
<rect x="175" y="613.4" width="2.8" height="64" fill="url(#cbar)"/>
<rect x="45" y="488" width="6" height="1.2" fill="#c8b400" opacity="0.8"/><rect x="45" y="490.2" width="4" height="1" fill="#c8b400" opacity="0.7"/>
<rect x="45" y="547" width="6" height="1.2" fill="#c8b400" opacity="0.8"/><rect x="45" y="549.2" width="4" height="1" fill="#c8b400" opacity="0.7"/>
<rect x="175" y="488" width="6" height="1.2" fill="#c8b400" opacity="0.8"/><rect x="175" y="490.2" width="4" height="1" fill="#c8b400" opacity="0.7"/>
<rect x="175" y="549" width="6" height="1.2" fill="#c8b400" opacity="0.8"/><rect x="175" y="551.2" width="4" height="1" fill="#c8b400" opacity="0.7"/>
<rect x="42" y="613" width="6" height="1.2" fill="#c8b400" opacity="0.8"/><rect x="42" y="615.2" width="4" height="1" fill="#c8b400" opacity="0.7"/>
<rect x="42" y="672" width="6" height="1.2" fill="#c8b400" opacity="0.8"/><rect x="42" y="674.2" width="4" height="1" fill="#c8b400" opacity="0.7"/>
<rect x="165" y="614" width="6" height="1.2" fill="#c8b400" opacity="0.8"/><rect x="165" y="616.2" width="4" height="1" fill="#c8b400" opacity="0.7"/>
<rect x="165" y="674" width="6" height="1.2" fill="#c8b400" opacity="0.8"/><rect x="165" y="676.2" width="4" height="1" fill="#c8b400" opacity="0.7"/>
<line x1="155.3" y1="464" x2="155.3" y2="576" stroke="#6a6a6a" stroke-width="0.7" stroke-dasharray="1 5"/>
<line x1="283.5" y1="464" x2="283.5" y2="578" stroke="#6a6a6a" stroke-width="0.7" stroke-dasharray="1 5"/>
<line x1="145.5" y1="590" x2="145.5" y2="700" stroke="#6a6a6a" stroke-width="0.7" stroke-dasharray="1 5"/>
<line x1="283.8" y1="592" x2="283.8" y2="702" stroke="#6a6a6a" stroke-width="0.7" stroke-dasharray="1 5"/>
<line x1="161" y1="462" x2="161" y2="576" stroke="#6a6a6a" stroke-width="0.7"/>
<line x1="288.2" y1="462" x2="288.2" y2="578" stroke="#6a6a6a" stroke-width="0.7"/>
<line x1="151.8" y1="588" x2="151.8" y2="700" stroke="#6a6a6a" stroke-width="0.7"/>
<line x1="290.5" y1="590" x2="290.5" y2="702" stroke="#6a6a6a" stroke-width="0.7"/>
<polygon points="157,553 160,551.2 160,554.8" fill="#f0e000"/>
<polygon points="285,561 288,559.2 288,562.8" fill="#f0e000"/>
<polygon points="147,679 150,677.2 150,680.8" fill="#f0e000"/>
<polygon points="280,673 283,671.2 283,674.8" fill="#f0e000"/>
<line x1="171.2" y1="457" x2="171.2" y2="583" stroke="#cfcfcf" stroke-width="0.6"/>
<rect x="160.6" y="583.2" width="9.8" height="1.2" fill="#e0e0e0"/>
<path d="M144.5 465.0L146.0 461.5L147.5 465.0L149.0 461.5L150.5 465.0M144.5 467.0H150.5" stroke="#dcdcdc" stroke-width="0.9" fill="none"/>
<path d="M274 465.5L275.5 462L277 465.5L278.5 462L280 465.5M274 467.5H280" stroke="#dcdcdc" stroke-width="0.9" fill="none"/>
<path d="M136 592.5L137.5 589L139 592.5L140.5 589L142 592.5M136 594.5H142" stroke="#dcdcdc" stroke-width="0.9" fill="none"/>
<path d="M266 593.5L267.5 590L269 593.5L270.5 590L272 593.5M266 595.5H272" stroke="#dcdcdc" stroke-width="0.9" fill="none"/>
<rect x="94.3" y="509.4" width="46.4" height="51.2" fill="none" stroke="#77772a" stroke-width="0.7"/>
<rect x="221.3" y="507" width="46.7" height="59.5" fill="none" stroke="#77772a" stroke-width="0.7"/>
<rect x="87.1" y="637.4" width="44.6" height="49.9" fill="none" stroke="#77772a" stroke-width="0.7"/>
<rect x="201.2" y="635" width="51.6" height="55.4" fill="none" stroke="#77772a" stroke-width="0.7"/>
<path d="M103 543 Q101 537 108 532 L134 520 Q139 518 140.5 519 L140.5 531 L117 546 Q108 551 103 543 Z" fill="url(#flowO)"/>
<circle cx="112.1" cy="520.1" r="4.3" fill="#1b3fd6"/><circle cx="114.5" cy="515" r="0.9" fill="#d03010"/>
<path d="M136.5 539 L140 539 L140.5 553 L136 554 Q135 550 137.5 547 Z" fill="#1b3fd6"/>
<path d="M224 523 Q228 519 233 521 L235 528 Q232 536 234 540 L232 548 Q226 550 223.5 545 Z" fill="#d8400e"/>
<path d="M238 515 Q246 510 256 512 Q265 513 265 522 Q266 532 258 536 L252 545 L251 566 L228 566 L231 552 Q234 545 236 540 Q233 530 236 522 Z" fill="url(#flowO)"/>
<path d="M236 516 Q240 512 247 513 L246 518 Q240 520 238 528 L235 528 Z" fill="#2850e0"/>
<circle cx="246" cy="516" r="1.6" fill="#40c8f0" opacity="0.9"/>
<circle cx="250" cy="518" r="1.3" fill="#f0e040" opacity="0.9"/>
<circle cx="254" cy="516" r="1.5" fill="#50d0f0" opacity="0.9"/>
<circle cx="258" cy="519" r="1.4" fill="#f0d030" opacity="0.9"/>
<circle cx="261" cy="522" r="1.3" fill="#40b0f0" opacity="0.9"/>
<circle cx="243" cy="522" r="1.2" fill="#f0e050" opacity="0.9"/>
<circle cx="248" cy="524" r="1.4" fill="#40c0e8" opacity="0.9"/>
<circle cx="252" cy="527" r="1.2" fill="#f0e040" opacity="0.9"/>
<circle cx="245" cy="530" r="1.5" fill="#50d0f0" opacity="0.9"/>
<circle cx="249" cy="534" r="1.2" fill="#e8e040" opacity="0.9"/>
<circle cx="255" cy="524" r="1.2" fill="#f8f060" opacity="0.9"/>
<circle cx="242" cy="536" r="1.2" fill="#40c0f0" opacity="0.9"/>
<circle cx="259" cy="527" r="1.1" fill="#50c8f0" opacity="0.9"/>
<circle cx="240" cy="526" r="1.1" fill="#f0e040" opacity="0.9"/>
<circle cx="251" cy="538" r="1.1" fill="#40c8f0" opacity="0.9"/>
<ellipse cx="243.8" cy="545" rx="3.6" ry="4.2" fill="#1050e8"/><ellipse cx="243.8" cy="545.5" rx="2" ry="2.5" fill="#40d0ff"/>
<ellipse cx="258.5" cy="541" rx="2.6" ry="4" fill="#1b3fd6"/>
<ellipse cx="256" cy="530" rx="1.8" ry="3.5" fill="#1b3fd6"/>
<circle cx="248" cy="530" r="1.2" fill="#f0e040"/><circle cx="253" cy="521" r="1" fill="#f0e040"/><circle cx="240" cy="536" r="1" fill="#f0d040"/>
<path d="M96 681 L98 676 L104 671 L108 664.5 L112 664 L113.5 669 L112 673 L106 678 L100 684 Z" fill="#1b3fd6"/>
<path d="M223 635 L251 635 L249.5 642 L245 647 L242 654 L238 660 L234.5 657 L231 649 L226 643 Z" fill="#d8400e"/>
<path d="M217 637 L224 636.5 L229 640 L230.5 645 L233 651 L230 660 L226 672 L220 688 L213 690.5 L212 686 L216 672 L220 660 L224 650 L222 645 L218 643 Z" fill="url(#flowB)"/>
<circle cx="207.5" cy="654" r="1.5" fill="#1b3fd6"/>
<circle cx="228" cy="652" r="0.9" fill="#e0c020"/>
<circle cx="225" cy="660" r="0.9" fill="#e0c020"/>
<circle cx="223" cy="667" r="0.9" fill="#e0c020"/>
<circle cx="221" cy="673" r="0.9" fill="#e0c020"/>
<circle cx="226" cy="657" r="0.9" fill="#e0c020"/>
<circle cx="224" cy="655" r="1.4" fill="#40b0f0" opacity="0.8"/>
<circle cx="221" cy="665" r="1.4" fill="#40b0f0" opacity="0.8"/>
<circle cx="219" cy="678" r="1.4" fill="#40b0f0" opacity="0.8"/>
<circle cx="227" cy="648" r="1.4" fill="#40b0f0" opacity="0.8"/>
<text x="331.9" y="430.2" font-size="24" font-weight="bold" textLength="15.1" lengthAdjust="spacingAndGlyphs">C</text>
<line x1="403.6" y1="599.45" x2="650.8" y2="599.45" stroke="#f2f2f2" stroke-width="0.8"/>
<line x1="403.6" y1="544.15" x2="650.8" y2="544.15" stroke="#f2f2f2" stroke-width="0.8"/>
<line x1="403.6" y1="488.85" x2="650.8" y2="488.85" stroke="#f2f2f2" stroke-width="0.8"/>
<line x1="403.6" y1="627.1" x2="650.8" y2="627.1" stroke="#ebebeb" stroke-width="1.1"/>
<line x1="403.6" y1="571.8" x2="650.8" y2="571.8" stroke="#ebebeb" stroke-width="1.1"/>
<line x1="403.6" y1="516.5" x2="650.8" y2="516.5" stroke="#ebebeb" stroke-width="1.1"/>
<line x1="403.6" y1="461.2" x2="650.8" y2="461.2" stroke="#ebebeb" stroke-width="1.1"/>
<line x1="470.6" y1="457.8" x2="470.6" y2="649.7" stroke="#ebebf0" stroke-width="1.1"/>
<line x1="583" y1="457.8" x2="583" y2="649.7" stroke="#ebebf0" stroke-width="1.1"/>
<text x="398.6" y="463.3" font-size="11.2" font-weight="bold" text-anchor="end" textLength="30.2" lengthAdjust="spacingAndGlyphs">4000</text>
<text x="399" y="522.4" font-size="11.2" font-weight="bold" text-anchor="end" textLength="30.2" lengthAdjust="spacingAndGlyphs">3000</text>
<text x="403.7" y="576.5" font-size="11.2" font-weight="bold" text-anchor="end" textLength="30.2" lengthAdjust="spacingAndGlyphs">2000</text>
<text x="398.6" y="630.8" font-size="11.2" font-weight="bold" text-anchor="end" textLength="30.2" lengthAdjust="spacingAndGlyphs">1000</text>
<text x="0" y="0" font-size="14.8" font-weight="bold" text-anchor="middle" textLength="161.6" lengthAdjust="spacingAndGlyphs" transform="translate(347.8,562) rotate(-90)">Aortic Velocity (mm/s)</text>
<text x="439.2" y="663.7" font-size="14.5" font-weight="bold" textLength="57.4" lengthAdjust="spacingAndGlyphs">6 weeks</text>
<text x="547.4" y="665.9" font-size="14.5" font-weight="bold" textLength="64.6" lengthAdjust="spacingAndGlyphs">16 weeks</text>
<text x="507.4" y="679.2" font-size="13.5" font-weight="bold" textLength="33.9" lengthAdjust="spacingAndGlyphs">Time</text>
<circle cx="470.6" cy="494.8" r="1.9" fill="#c8dcef" opacity="0.72"/>
<circle cx="470.6" cy="504.9" r="1.9" fill="#8a5aa8" opacity="0.72"/>
<circle cx="470.6" cy="529.9" r="1.9" fill="#6a2a6e" opacity="0.72"/>
<circle cx="470.6" cy="538.3" r="1.9" fill="#6a2a6e" opacity="0.72"/>
<circle cx="470.6" cy="542.5" r="1.9" fill="#6a2a6e" opacity="0.72"/>
<circle cx="470.6" cy="555.1" r="1.9" fill="#8a5aa8" opacity="0.72"/>
<circle cx="470.6" cy="557.3" r="1.9" fill="#6a2a6e" opacity="0.72"/>
<circle cx="470.6" cy="568.3" r="1.9" fill="#6070c0" opacity="0.72"/>
<circle cx="470.6" cy="576.7" r="1.9" fill="#6a2a6e" opacity="0.72"/>
<circle cx="470.6" cy="587.3" r="1.9" fill="#a8c8e8" opacity="0.72"/>
<circle cx="470.6" cy="597.7" r="1.9" fill="#c8dcef" opacity="0.72"/>
<circle cx="470.6" cy="609.8" r="1.9" fill="#6a2a6e" opacity="0.72"/>
<circle cx="470.6" cy="611.7" r="1.9" fill="#6a2a6e" opacity="0.72"/>
<circle cx="470.6" cy="613" r="1.9" fill="#6070c0" opacity="0.72"/>
<circle cx="470.6" cy="615.4" r="1.9" fill="#8a5aa8" opacity="0.72"/>
<circle cx="470.6" cy="618.2" r="1.9" fill="#7ea6cf" opacity="0.72"/>
<circle cx="470.6" cy="621" r="1.9" fill="#6070c0" opacity="0.72"/>
<circle cx="470.6" cy="625.2" r="1.9" fill="#7ea6cf" opacity="0.72"/>
<circle cx="470.6" cy="629.4" r="1.9" fill="#6070c0" opacity="0.72"/>
<circle cx="470.6" cy="632.2" r="1.9" fill="#7ea6cf" opacity="0.72"/>
<circle cx="470.6" cy="635" r="1.9" fill="#a8c8e8" opacity="0.72"/>
<circle cx="470.6" cy="606" r="1.9" fill="#8a5aa8" opacity="0.72"/>
<circle cx="470.6" cy="602" r="1.9" fill="#6070c0" opacity="0.72"/>
<circle cx="583" cy="466.8" r="1.9" fill="#c8dcef" opacity="0.72"/>
<circle cx="583" cy="475.8" r="1.9" fill="#6a2a6e" opacity="0.72"/>
<circle cx="583" cy="483.6" r="1.9" fill="#6a2a6e" opacity="0.72"/>
<circle cx="583" cy="493.6" r="1.9" fill="#8a5aa8" opacity="0.72"/>
<circle cx="583" cy="506.8" r="1.9" fill="#6a2a6e" opacity="0.72"/>
<circle cx="583" cy="528.9" r="1.9" fill="#6a2a6e" opacity="0.72"/>
<circle cx="583" cy="556.4" r="1.9" fill="#6a2a6e" opacity="0.72"/>
<circle cx="583" cy="558.5" r="1.9" fill="#c8dcef" opacity="0.72"/>
<circle cx="583" cy="578" r="1.9" fill="#c8dcef" opacity="0.72"/>
<circle cx="583" cy="583.8" r="1.9" fill="#7ea6cf" opacity="0.72"/>
<circle cx="583" cy="590" r="1.9" fill="#6a2a6e" opacity="0.72"/>
<circle cx="583" cy="592" r="1.9" fill="#6a2a6e" opacity="0.72"/>
<circle cx="583" cy="598" r="1.9" fill="#c8dcef" opacity="0.72"/>
<circle cx="583" cy="607" r="1.9" fill="#6a2a6e" opacity="0.72"/>
<circle cx="583" cy="610" r="1.9" fill="#8a5aa8" opacity="0.72"/>
<circle cx="583" cy="613" r="1.9" fill="#6070c0" opacity="0.72"/>
<circle cx="583" cy="616" r="1.9" fill="#7ea6cf" opacity="0.72"/>
<circle cx="583" cy="619" r="1.9" fill="#6070c0" opacity="0.72"/>
<circle cx="583" cy="622" r="1.9" fill="#7ea6cf" opacity="0.72"/>
<circle cx="583" cy="625" r="1.9" fill="#6a2a6e" opacity="0.72"/>
<circle cx="583" cy="628" r="1.9" fill="#8a5aa8" opacity="0.72"/>
<circle cx="583" cy="631" r="1.9" fill="#a8c8e8" opacity="0.72"/>
<circle cx="583" cy="634" r="1.9" fill="#c8dcef" opacity="0.72"/>
<circle cx="583" cy="637" r="1.9" fill="#c8dcef" opacity="0.72"/>
<circle cx="583" cy="604" r="1.9" fill="#8a5aa8" opacity="0.72"/>
<line x1="470.6" y1="620.4" x2="583" y2="616" stroke="#d6e6f2" stroke-width="1.6"/>
<line x1="470.6" y1="624.3" x2="583" y2="621.5" stroke="#7ea6cf" stroke-width="1.8"/>
<line x1="470.6" y1="617.6" x2="583" y2="611.7" stroke="#5b6fbd" stroke-width="1.9"/>
<line x1="470.6" y1="587.3" x2="583" y2="580.9" stroke="#b8d2ea" stroke-width="1.8"/>
<line x1="470.6" y1="599.4" x2="583" y2="589.6" stroke="#7d4ea6" stroke-width="1.9"/>
<line x1="470.6" y1="567.2" x2="583" y2="539.1" stroke="#4a1050" stroke-width="2.1"/>
<text x="670.4" y="478.8" font-size="10.4" font-weight="bold" textLength="65.6" lengthAdjust="spacingAndGlyphs">Genotypes</text>
<line x1="659.6" y1="500.3" x2="672" y2="500.3" stroke="#dcecf4" stroke-width="2.2"/>
<line x1="659.6" y1="519" x2="672" y2="519" stroke="#c2e2ee" stroke-width="3.8"/>
<line x1="659.6" y1="538.9" x2="672" y2="538.9" stroke="#7ba5c8" stroke-width="3.8"/>
<line x1="659.6" y1="557.6" x2="672" y2="557.6" stroke="#5366c0" stroke-width="3.8"/>
<line x1="659.6" y1="571.4" x2="672" y2="571.4" stroke="#7a4aa0" stroke-width="3.8"/>
<line x1="659.6" y1="588.8" x2="672" y2="588.8" stroke="#4a1850" stroke-width="2.2"/>
<text x="679" y="503.6" font-size="10.9" font-weight="bold" textLength="53.8" lengthAdjust="spacingAndGlyphs">Wildtype</text>
<text x="679" y="523.1" font-size="10.9" font-weight="bold" font-style="italic" textLength="43.9" lengthAdjust="spacingAndGlyphs">Notch1</text>
<text x="722.9" y="518" font-size="10" font-weight="bold" font-style="italic" textLength="14.9" lengthAdjust="spacingAndGlyphs">+/-</text>
<text x="677.4" y="542.7" font-size="10.9" font-weight="bold" font-style="italic" textLength="36.4" lengthAdjust="spacingAndGlyphs">Gata5</text>
<text x="713.8" y="537.2" font-size="10" font-weight="bold" font-style="italic" textLength="14.1" lengthAdjust="spacingAndGlyphs">+/-</text>
<text x="677.8" y="560.4" font-size="10.9" font-weight="bold" font-style="italic" textLength="36.8" lengthAdjust="spacingAndGlyphs">Gata5</text>
<text x="714.6" y="554.5" font-size="10" font-weight="bold" font-style="italic" textLength="9.6" lengthAdjust="spacingAndGlyphs">-/-</text>
<text x="676.7" y="575.8" font-size="10.9" font-weight="bold" font-style="italic" textLength="42.1" lengthAdjust="spacingAndGlyphs">Notch1</text>
<text x="718.8" y="566" font-size="10" font-weight="bold" font-style="italic" textLength="12.6" lengthAdjust="spacingAndGlyphs">+/-</text>
<text x="728.2" y="575.8" font-size="10.9" font-weight="bold" font-style="italic" textLength="41.4" lengthAdjust="spacingAndGlyphs">;Gata5</text>
<text x="769.6" y="566" font-size="10" font-weight="bold" font-style="italic" textLength="14.4" lengthAdjust="spacingAndGlyphs">+/-</text>
<text x="676.7" y="592.8" font-size="10.9" font-weight="bold" font-style="italic" textLength="42.1" lengthAdjust="spacingAndGlyphs">Notch1</text>
<text x="718.8" y="583.5" font-size="10" font-weight="bold" font-style="italic" textLength="12.6" lengthAdjust="spacingAndGlyphs">+/-</text>
<text x="728.2" y="592.8" font-size="10.9" font-weight="bold" font-style="italic" textLength="41.4" lengthAdjust="spacingAndGlyphs">;Gata5</text>
<text x="769.6" y="583" font-size="10" font-weight="bold" font-style="italic" textLength="10" lengthAdjust="spacingAndGlyphs">-/-</text>
<text x="3.1" y="774" font-size="24" font-weight="bold" textLength="14.7" lengthAdjust="spacingAndGlyphs">D</text>
<text x="0" y="0" font-size="20.8" font-weight="bold" text-anchor="middle" textLength="80.7" lengthAdjust="spacingAndGlyphs" transform="translate(31.1,882) rotate(-90)">16 weeks</text>
<text x="56.3" y="801.3" font-size="8.6" font-weight="bold" textLength="39.6" lengthAdjust="spacingAndGlyphs">Wildtype</text>
<text x="136.3" y="801.3" font-size="8.6" font-weight="bold" font-style="italic" textLength="32" lengthAdjust="spacingAndGlyphs">Notch1</text>
<text x="168.3" y="794.5" font-size="6.5" font-weight="bold" font-style="italic" textLength="9.9" lengthAdjust="spacingAndGlyphs">+/-</text>
<text x="214.1" y="801.3" font-size="8.6" font-weight="bold" font-style="italic" textLength="29.9" lengthAdjust="spacingAndGlyphs">Gata5</text>
<text x="244" y="793.3" font-size="6.5" font-weight="bold" font-style="italic" textLength="7.6" lengthAdjust="spacingAndGlyphs">+/-</text>
<text x="290" y="801.3" font-size="8.6" font-weight="bold" font-style="italic" textLength="26.9" lengthAdjust="spacingAndGlyphs">Gata5</text>
<text x="316.9" y="793.6" font-size="6.5" font-weight="bold" font-style="italic" textLength="7.5" lengthAdjust="spacingAndGlyphs">-/-</text>
<text x="344.7" y="801.3" font-size="8.6" font-weight="bold" font-style="italic" textLength="65" lengthAdjust="spacingAndGlyphs">Notch1 ;Gata5</text>
<text x="375.3" y="792.2" font-size="6.5" font-weight="bold" font-style="italic" textLength="7.5" lengthAdjust="spacingAndGlyphs">+/-</text>
<text x="406.7" y="792.2" font-size="6.5" font-weight="bold" font-style="italic" textLength="9" lengthAdjust="spacingAndGlyphs">+/-</text>
<text x="420.2" y="801.3" font-size="8.6" font-weight="bold" font-style="italic" textLength="64.9" lengthAdjust="spacingAndGlyphs">Notch1 ;Gata5</text>
<text x="450.7" y="792.2" font-size="6.5" font-weight="bold" font-style="italic" textLength="8.3" lengthAdjust="spacingAndGlyphs">+/-</text>
<text x="483" y="792.2" font-size="6.5" font-weight="bold" font-style="italic" textLength="7.5" lengthAdjust="spacingAndGlyphs">-/-</text>
<defs>
<radialGradient id="h1" cx="0.45" cy="0.45" r="0.6"><stop offset="0" stop-color="#e27888"/><stop offset="0.75" stop-color="#cc5064"/><stop offset="1" stop-color="#a03444"/></radialGradient>
<radialGradient id="h2" cx="0.4" cy="0.35" r="0.7"><stop offset="0" stop-color="#c49098"/><stop offset="0.6" stop-color="#a06870"/><stop offset="1" stop-color="#6a3840"/></radialGradient>
<radialGradient id="h3" cx="0.45" cy="0.45" r="0.6"><stop offset="0" stop-color="#f0a0b8"/><stop offset="0.7" stop-color="#d4688a"/><stop offset="1" stop-color="#a83c5c"/></radialGradient>
<radialGradient id="h4" cx="0.45" cy="0.45" r="0.6"><stop offset="0" stop-color="#d8a0b0"/><stop offset="0.7" stop-color="#bc7484"/><stop offset="1" stop-color="#8c4858"/></radialGradient>
<radialGradient id="h5" cx="0.4" cy="0.4" r="0.65"><stop offset="0" stop-color="#d06a78"/><stop offset="0.65" stop-color="#b03c4c"/><stop offset="1" stop-color="#701e2a"/></radialGradient>
<radialGradient id="h6" cx="0.45" cy="0.45" r="0.6"><stop offset="0" stop-color="#eca8bc"/><stop offset="0.7" stop-color="#d07890"/><stop offset="1" stop-color="#a04c64"/></radialGradient>
<linearGradient id="darkbg" x1="0" y1="0" x2="0" y2="1"><stop offset="0" stop-color="#1c1c1e"/><stop offset="1" stop-color="#262628"/></linearGradient>
<filter id="blurh"><feGaussianBlur stdDeviation="0.45"/></filter>
<filter id="tex" x="0" y="0" width="1" height="1" color-interpolation-filters="sRGB">
<feTurbulence type="fractalNoise" baseFrequency="0.3" numOctaves="2" seed="11" result="n"/>
<feColorMatrix in="n" type="matrix" values="0 0 0 0 1  0 0 0 0 1  0 0 0 0 1  1.4 0 0 0 -0.6"/>
<feComposite in2="SourceGraphic" operator="in"/>
</filter>
</defs>
<rect x="38.1" y="804.6" width="452.4" height="60.7" fill="url(#darkbg)"/>
<line x1="113.5" y1="804.6" x2="113.5" y2="865.3" stroke="#303032" stroke-width="0.6"/>
<line x1="188.9" y1="804.6" x2="188.9" y2="865.3" stroke="#303032" stroke-width="0.6"/>
<line x1="264.3" y1="804.6" x2="264.3" y2="865.3" stroke="#303032" stroke-width="0.6"/>
<line x1="339.7" y1="804.6" x2="339.7" y2="865.3" stroke="#303032" stroke-width="0.6"/>
<line x1="415.1" y1="804.6" x2="415.1" y2="865.3" stroke="#303032" stroke-width="0.6"/>
<g filter="url(#blurh)">
<path d="M -0.9,-0.5 C -1.05,0.2 -0.55,0.95 0.1,1.0 C 0.7,1.0 1.0,0.45 0.98,-0.15 C 0.95,-0.7 0.5,-1.0 0.0,-0.98 C -0.45,-0.97 -0.8,-0.8 -0.9,-0.5 Z" transform="translate(79.1 839.5) rotate(-12) scale(15.0 20.75)" fill="url(#h1)"/>
<ellipse cx="66.5" cy="825" rx="5.8" ry="6.8" fill="#e04860"/>
<ellipse cx="76" cy="821" rx="8" ry="5" fill="#e46a7c"/>
<path d="M78 820 L77.5 809 M81 820 L82 807 M84 820 L85.5 810 M86 820 L88 813" stroke="#f0f4fa" stroke-width="1.8" stroke-linecap="round" opacity="0.9"/>
<ellipse cx="82" cy="819" rx="6.5" ry="3" fill="#eadce4" opacity="0.85"/>
</g>
<g filter="url(#blurh)">
<path d="M -0.9,-0.5 C -1.05,0.2 -0.55,0.95 0.1,1.0 C 0.7,1.0 1.0,0.45 0.98,-0.15 C 0.95,-0.7 0.5,-1.0 0.0,-0.98 C -0.45,-0.97 -0.8,-0.8 -0.9,-0.5 Z" transform="translate(154.2 837.5) rotate(-16) scale(14.5 22.3)" fill="url(#h2)"/>
<ellipse cx="140" cy="827.7" rx="4.6" ry="7.6" fill="#d42444"/>
<ellipse cx="151" cy="820" rx="8" ry="5" fill="#b87a84"/>
<path d="M149 822 L148.5 811 M152 822 L153 809 M155 822 L156.5 812 M157 822 L159 815" stroke="#f0f4fa" stroke-width="1.8" stroke-linecap="round" opacity="0.9"/>
<ellipse cx="153" cy="821" rx="6.5" ry="3" fill="#eadce4" opacity="0.85"/>
</g>
<g filter="url(#blurh)">
<path d="M -0.9,-0.5 C -1.05,0.2 -0.55,0.95 0.1,1.0 C 0.7,1.0 1.0,0.45 0.98,-0.15 C 0.95,-0.7 0.5,-1.0 0.0,-0.98 C -0.45,-0.97 -0.8,-0.8 -0.9,-0.5 Z" transform="translate(225 839.5) rotate(-20) scale(16.0 20.5)" fill="url(#h3)"/>
<ellipse cx="213.5" cy="828" rx="5.8" ry="7.5" fill="#e46e8c"/>
<ellipse cx="222" cy="822" rx="8.5" ry="5" fill="#ec92aa"/>
<path d="M224 821 L223.5 810 M227 821 L228 808 M230 821 L231.5 811 M232 821 L234 814" stroke="#f0f4fa" stroke-width="1.8" stroke-linecap="round" opacity="0.9"/>
<ellipse cx="228" cy="820" rx="6.5" ry="3" fill="#eadce4" opacity="0.85"/>
</g>
<g filter="url(#blurh)">
<path d="M -0.9,-0.5 C -1.05,0.2 -0.55,0.95 0.1,1.0 C 0.7,1.0 1.0,0.45 0.98,-0.15 C 0.95,-0.7 0.5,-1.0 0.0,-0.98 C -0.45,-0.97 -0.8,-0.8 -0.9,-0.5 Z" transform="translate(298.6 838) rotate(-20) scale(17.5 22.0)" fill="url(#h4)"/>
<ellipse cx="286.5" cy="827" rx="6" ry="8.5" fill="#d08898"/>
<ellipse cx="294" cy="821" rx="9" ry="5" fill="#d8a0b0"/>
<path d="M293 820 L292.5 809 M296 820 L297 807 M299 820 L300.5 810 M301 820 L303 813" stroke="#f0f4fa" stroke-width="1.8" stroke-linecap="round" opacity="0.9"/>
<ellipse cx="297" cy="819" rx="6.5" ry="3" fill="#eadce4" opacity="0.85"/>
</g>
<g filter="url(#blurh)">
<path d="M -0.9,-0.5 C -1.05,0.2 -0.55,0.95 0.1,1.0 C 0.7,1.0 1.0,0.45 0.98,-0.15 C 0.95,-0.7 0.5,-1.0 0.0,-0.98 C -0.45,-0.97 -0.8,-0.8 -0.9,-0.5 Z" transform="translate(373.4 837.5) rotate(-6) scale(16.0 22.5)" fill="url(#h5)"/>
<ellipse cx="367" cy="820" rx="10" ry="6" fill="#e8304c"/>
<ellipse cx="383" cy="826" rx="6" ry="7.5" fill="#e83850"/>
<path d="M374 819 L373.5 808 M377 819 L378 806 M380 819 L381.5 809 M382 819 L384 812" stroke="#f0f4fa" stroke-width="1.8" stroke-linecap="round" opacity="0.9"/>
<ellipse cx="378" cy="818" rx="6.5" ry="3" fill="#eadce4" opacity="0.85"/>
</g>
<g filter="url(#blurh)">
<path d="M -0.9,-0.5 C -1.05,0.2 -0.55,0.95 0.1,1.0 C 0.7,1.0 1.0,0.45 0.98,-0.15 C 0.95,-0.7 0.5,-1.0 0.0,-0.98 C -0.45,-0.97 -0.8,-0.8 -0.9,-0.5 Z" transform="translate(453 837) rotate(-10) scale(16.85 21.8)" fill="url(#h6)"/>
<ellipse cx="441" cy="828" rx="6" ry="8.5" fill="#ec92a8"/>
<ellipse cx="450" cy="821" rx="9.5" ry="5.5" fill="#f0a8bc"/>
<path d="M447 818 L446.5 807 M450 818 L451 805 M453 818 L454.5 808 M455 818 L457 811" stroke="#f0f4fa" stroke-width="1.8" stroke-linecap="round" opacity="0.9"/>
<ellipse cx="451" cy="817" rx="6.5" ry="3" fill="#eadce4" opacity="0.85"/>
</g>
<rect x="100.5" y="859.5" width="7" height="1.3" fill="#d8d8d8"/><rect x="100.5" y="861.3" width="7" height="0.5" fill="#888"/>
<rect x="175.9" y="859.5" width="7" height="1.3" fill="#d8d8d8"/><rect x="175.9" y="861.3" width="7" height="0.5" fill="#888"/>
<rect x="251.3" y="859.5" width="7" height="1.3" fill="#d8d8d8"/><rect x="251.3" y="861.3" width="7" height="0.5" fill="#888"/>
<rect x="326.7" y="859.5" width="7" height="1.3" fill="#d8d8d8"/><rect x="326.7" y="861.3" width="7" height="0.5" fill="#888"/>
<rect x="402.1" y="859.5" width="7" height="1.3" fill="#d8d8d8"/><rect x="402.1" y="861.3" width="7" height="0.5" fill="#888"/>
<rect x="477.5" y="859.5" width="7" height="1.3" fill="#d8d8d8"/><rect x="477.5" y="861.3" width="7" height="0.5" fill="#888"/>
<rect x="38.1" y="865.3" width="75.4" height="60.9" fill="#e6e6e6"/>
<rect x="113.5" y="865.3" width="75.4" height="60.9" fill="#e8e8e8"/>
<rect x="188.9" y="865.3" width="75.4" height="60.9" fill="#eeeeee"/>
<rect x="264.3" y="865.3" width="75.4" height="60.9" fill="#efefef"/>
<rect x="339.7" y="865.3" width="75.4" height="60.9" fill="#eeeeee"/>
<rect x="415.1" y="865.3" width="75.4" height="60.9" fill="#eeeeee"/>
<path d="M60.8 884.65 C55.85 900.4 61.62 918.25 73.17 923.5 C82.25 924.55 89.67 913 90.17 898.3 C90.5 887.8 85.55 882.55 77.3 883.18 C70.7 881.5 64.1 881.5 60.8 884.65 Z" fill="#f0eaf0" stroke="#7a3a78" stroke-width="0.9"/>
<path d="M60.8 885.7 C56.67 900.4 61.62 917.2 72.35 922.45 L69.88 887.8 Z" fill="#9a5a90" opacity="0.35"/>
<path d="M69.05 887.8 C69.05 902.5 70.7 915.1 74.83 921.82" fill="none" stroke="#9a5a90" stroke-width="5.61"/>
<path d="M82.25 887.38 C89.67 896.2 88.85 911.95 77.3 921.82" fill="none" stroke="#9a5a90" stroke-width="6.6"/>
<path d="M73.17 922.03 Q75.65 923.5 78.95 921.4" fill="none" stroke="#9a5a90" stroke-width="3.3"/>
<path d="M61.62 884.65 C59.15 875.2 69.05 874.15 72.35 880.45 C74 871 80.6 869.95 79.78 877.3 C87.2 875.2 88.85 881.5 85.55 884.65" fill="none" stroke="#7a3a78" stroke-width="0.8"/>
<path d="M138.8 882.8 C134.6 899.3 139.5 918 149.3 923.5 C157 924.6 163.3 912.5 163.72 897.1 C164 886.1 159.8 880.6 152.8 881.26 C147.2 879.5 141.6 879.5 138.8 882.8 Z" fill="#f2ecf0" stroke="#a85a80" stroke-width="0.9"/>
<path d="M138.8 883.9 C135.3 899.3 139.5 916.9 148.6 922.4 L146.5 886.1 Z" fill="#c890a8" opacity="0.35"/>
<path d="M145.8 886.1 C145.8 901.5 147.2 914.7 150.7 921.74" fill="none" stroke="#c890a8" stroke-width="4.76"/>
<path d="M157 885.66 C163.3 894.9 162.6 911.4 152.8 921.74" fill="none" stroke="#c890a8" stroke-width="5.6"/>
<path d="M149.3 921.96 Q151.4 923.5 154.2 921.3" fill="none" stroke="#c890a8" stroke-width="2.8"/>
<path d="M139.5 882.8 C137.4 872.9 145.8 871.8 148.6 878.4 C150 868.5 155.6 867.4 154.9 875.1 C161.2 872.9 162.6 879.5 159.8 882.8" fill="none" stroke="#a85a80" stroke-width="0.8"/>
<path d="M212.4 887.35 C208.05 901.6 213.12 917.75 223.28 922.5 C231.25 923.45 237.78 913 238.21 899.7 C238.5 890.2 234.15 885.45 226.9 886.02 C221.1 884.5 215.3 884.5 212.4 887.35 Z" fill="#f2ecf0" stroke="#6a2a60" stroke-width="0.9"/>
<path d="M212.4 888.3 C208.78 901.6 213.12 916.8 222.55 921.55 L220.38 890.2 Z" fill="#8a4a7c" opacity="0.35"/>
<path d="M219.65 890.2 C219.65 903.5 221.1 914.9 224.72 920.98" fill="none" stroke="#8a4a7c" stroke-width="4.93"/>
<path d="M231.25 889.82 C237.78 897.8 237.05 912.05 226.9 920.98" fill="none" stroke="#8a4a7c" stroke-width="5.8"/>
<path d="M223.28 921.17 Q225.45 922.5 228.35 920.6" fill="none" stroke="#8a4a7c" stroke-width="2.9"/>
<path d="M213.12 887.35 C210.95 878.8 219.65 877.85 222.55 883.55 C224 875 229.8 874.05 229.07 880.7 C235.6 878.8 237.05 884.5 234.15 887.35" fill="none" stroke="#6a2a60" stroke-width="0.8"/>
<path d="M288.4 884.58 C284.05 899.95 289.12 917.38 299.27 922.5 C307.25 923.52 313.77 912.25 314.21 897.9 C314.5 887.65 310.15 882.52 302.9 883.14 C297.1 881.5 291.3 881.5 288.4 884.58 Z" fill="#b88a78" stroke="#9a6a5a" stroke-width="1"/>
<path d="M294.93 889.7 C292.75 902 295.65 912.25 297.82 916.35 C298.55 906.1 298.55 895.85 297.1 889.7 Z" fill="#f2e4dc"/>
<path d="M302.9 889.7 C306.52 897.9 305.8 908.15 304.35 912.25 C303.62 904.05 303.62 895.85 302.9 889.7 Z" fill="#f2e4dc"/>
<path d="M289.12 884.58 C286.95 875.35 295.65 874.33 298.55 880.48 C300 871.25 305.8 870.23 305.07 877.4 C311.6 875.35 313.05 881.5 310.15 884.58" fill="none" stroke="#9a6a5a" stroke-width="0.8"/>
<path d="M362 884 C357.5 899 362.75 916 373.25 921 C381.5 922 388.25 911 388.7 897 C389 887 384.5 882 377 882.6 C371 881 365 881 362 884 Z" fill="#e29aa6" stroke="#d07888" stroke-width="1"/>
<path d="M368.75 889 C366.5 901 369.5 911 371.75 915 C372.5 905 372.5 895 371 889 Z" fill="#f8ecf0"/>
<path d="M377 889 C380.75 897 380 907 378.5 911 C377.75 903 377.75 895 377 889 Z" fill="#f8ecf0"/>
<path d="M362.75 884 C360.5 875 369.5 874 372.5 880 C374 871 380 870 379.25 877 C386 875 387.5 881 384.5 884" fill="none" stroke="#d07888" stroke-width="0.8"/>
<path d="M442.4 882.58 C438.05 897.95 443.12 915.38 453.27 920.5 C461.25 921.52 467.77 910.25 468.21 895.9 C468.5 885.65 464.15 880.52 456.9 881.14 C451.1 879.5 445.3 879.5 442.4 882.58 Z" fill="#e6a0ac" stroke="#d07888" stroke-width="1"/>
<path d="M448.93 887.7 C446.75 900 449.65 910.25 451.82 914.35 C452.55 904.1 452.55 893.85 451.1 887.7 Z" fill="#f8ecf0"/>
<path d="M456.9 887.7 C460.52 895.9 459.8 906.15 458.35 910.25 C457.62 902.05 457.62 893.85 456.9 887.7 Z" fill="#f8ecf0"/>
<path d="M443.12 882.58 C440.95 873.35 449.65 872.33 452.55 878.48 C454 869.25 459.8 868.23 459.07 875.4 C465.6 873.35 467.05 879.5 464.15 882.58" fill="none" stroke="#d07888" stroke-width="0.8"/>
<rect x="38.1" y="926.2" width="75.4" height="61.6" fill="#f2eef2"/>
<rect x="113.5" y="926.2" width="75.4" height="61.6" fill="#efefef"/>
<rect x="188.9" y="926.2" width="75.4" height="61.6" fill="#f0f0f0"/>
<rect x="264.3" y="926.2" width="75.4" height="61.6" fill="#ebe9e6"/>
<rect x="339.7" y="926.2" width="75.4" height="61.6" fill="#e2e2e2"/>
<rect x="415.1" y="926.2" width="75.4" height="61.6" fill="#e6e4e4"/>
<clipPath id="r3"><rect x="38.1" y="926.2" width="452.4" height="61.6"/></clipPath><g clip-path="url(#r3)">
<path d="M38 955 Q50 958 56 968 L60 988 L38 988 Z" fill="#8a3a80"/>
<path d="M93 988 Q95 972 104 968 Q111 967 113.5 972 L113.5 988 Z" fill="#9a4890"/>
<path d="M49 926 Q44 942 48 954 Q51 962 57 968" fill="none" stroke="#2a1430" stroke-width="2.2"/>
<path d="M103 926 Q109 944 104 960 Q101 966 99 970" fill="none" stroke="#2a1430" stroke-width="2.4"/>
<path d="M53 960 Q58 966 59 978" fill="none" stroke="#d8a838" stroke-width="2.6" opacity="0.85"/>
<path d="M59 944 L61 952 Q66 958 66 964" fill="none" stroke="#8a7898" stroke-width="1.3"/>
<path d="M85 948 L87 958 Q92 964 96 970" fill="none" stroke="#8a7898" stroke-width="1.3"/>
<ellipse cx="59.5" cy="944" rx="1.6" ry="2.5" fill="#7aa8b0"/>
<circle cx="75" cy="940" r="4" fill="#ecd8e6" opacity="0.7"/>
<circle cx="70" cy="955" r="3" fill="#ecd8e6" opacity="0.7"/>
<circle cx="82" cy="975" r="4" fill="#ecd8e6" opacity="0.7"/>
<circle cx="90" cy="932" r="3" fill="#ecd8e6" opacity="0.7"/>
<path d="M113.5 962 Q121 966 124 976 L126 988 L113.5 988 Z" fill="#a86a98" opacity="0.85"/>
<path d="M125 926 Q119 944 124 958 Q127 966 123 975" fill="none" stroke="#2a1430" stroke-width="1.9"/>
<path d="M176 926 Q182 944 175 958 Q170 968 172 984" fill="none" stroke="#2a1430" stroke-width="2.1"/>
<ellipse cx="130" cy="952" rx="4.2" ry="3.6" fill="#7cbcac" transform="rotate(-30 130 952)"/>
<ellipse cx="161" cy="949" rx="5" ry="4.6" fill="#80c0b0"/>
<path d="M132 955 Q134 972 147 981 M163 954 Q166 968 174 974" fill="none" stroke="#a090a8" stroke-width="1.1"/>
<circle cx="120" cy="937" r="0.9" fill="#e0b040"/>
<circle cx="140" cy="980" r="0.9" fill="#e0b040"/>
<circle cx="158" cy="935" r="0.9" fill="#e0b040"/>
<circle cx="150" cy="960" r="0.9" fill="#e0b040"/>
<path d="M188.9 955 Q199 958 204 968 L207 988 L188.9 988 Z" fill="#8a3a7a"/>
<path d="M245 988 Q248 970 256 966 Q262 965 264.3 968 L264.3 988 Z" fill="#8a3a7a"/>
<path d="M198 926 Q191 944 197 958 Q201 964 205 968" fill="none" stroke="#2a1430" stroke-width="2.2"/>
<path d="M250 926 Q257 944 252 960 Q248 966 246 972" fill="none" stroke="#2a1430" stroke-width="2.2"/>
<ellipse cx="214" cy="955" rx="3.4" ry="4" fill="#88a8b0"/><ellipse cx="232" cy="958" rx="3.4" ry="4" fill="#88a8b0"/>
<path d="M215 959 Q214 968 206 972 M233 962 Q238 970 246 972" fill="none" stroke="#9a7a98" stroke-width="1.1"/>
<path d="M264.3 926 L276 926 Q272 944 282 958 Q294 972 304 988 L264.3 988 Z" fill="#9a5e48"/>
<path d="M264.3 945 Q278 960 286 988 L264.3 988 Z" fill="#8a4a44"/>
<path d="M320 926 L339.7 926 L339.7 988 L306 988 Q316 976 322 962 Q327 945 320 926 Z" fill="#b49470"/>
<path d="M329 932 L339.7 932 L339.7 962 Q332 950 329 932 Z" fill="#ece6e0"/>
<path d="M274 926 Q270 946 281 960 Q293 974 304 988" fill="none" stroke="#b4a040" stroke-width="3.8"/>
<path d="M319 926 Q326 946 320 962 Q313 976 306 988" fill="none" stroke="#b4a040" stroke-width="3.8"/>
<path d="M282 966 Q294 980 301 988 L286 988 Z" fill="#b8b048" opacity="0.85"/>
<ellipse cx="289" cy="963" rx="4.2" ry="6" fill="#58b098" transform="rotate(-15 289 963)"/>
<ellipse cx="312" cy="958" rx="4" ry="6.2" fill="#58b098"/>
<ellipse cx="296" cy="946" rx="2.2" ry="1.4" fill="#b07050"/>
<path d="M339.7 926 L346 926 Q346 950 352 962 Q358 974 364 988 L339.7 988 Z" fill="#b84858"/>
<path d="M398 926 L415.1 926 L415.1 988 L398 988 Q404 970 405 955 Q404 938 398 926 Z" fill="#c05060"/>
<path d="M356 944 Q362 938 368 940 Q374 944 372 956 Q370 966 362 967 Q355 962 356 944 Z" fill="#40a898"/>
<path d="M380 940 Q388 932 396 938 Q400 952 396 966 Q392 978 386 976 Q380 966 380 940 Z" fill="#3aa894"/>
<path d="M343 962 Q350 966 356 960 L360 970 Q352 978 350 988 L343 988 Z" fill="#48a898"/>
<path d="M347 962 Q353 978 364 988" fill="none" stroke="#c8b050" stroke-width="1.8"/>
<path d="M415.1 926 L423 926 Q424 948 430 964 Q436 978 444 988 L415.1 988 Z" fill="#c05868"/>
<path d="M468 926 L490.5 926 L490.5 988 L470 988 Q480 972 480 958 Q478 940 468 926 Z" fill="#c45a6a"/>
<path d="M480 926 L490.5 926 L490.5 940 Q485 934 480 926 Z" fill="#eee8ea"/>
<path d="M423 926 Q425 948 431 964 Q437 978 445 988" fill="none" stroke="#8a2a40" stroke-width="1.6"/>
<path d="M468 926 Q479 940 480 958 Q480 972 471 988" fill="none" stroke="#8a2a40" stroke-width="1.6"/>
<ellipse cx="440" cy="956" rx="5" ry="8" fill="#48a8a0"/><ellipse cx="438.5" cy="948.5" rx="3" ry="2" fill="#302028"/>
<ellipse cx="459" cy="957" rx="3.6" ry="7" fill="#60b0a0"/>
<path d="M441 964 Q446 976 456 980 M460 964 Q466 974 474 976" fill="none" stroke="#c8b050" stroke-width="1.5"/>
</g>
<text x="515.5" y="770.9" font-size="23.6" font-weight="bold" textLength="13.2" lengthAdjust="spacingAndGlyphs">E</text>
<text x="625.3" y="748" font-size="13.5" font-weight="bold" textLength="63.5" lengthAdjust="spacingAndGlyphs">16 weeks</text>
<rect x="580.15" y="978.2" width="18.6" height="18.4" fill="#ffffff" stroke="#000" stroke-width="1.4"/>
<rect x="609.25" y="962.4" width="18.6" height="34.2" fill="#3d9e3d" stroke="#000" stroke-width="1.4"/>
<rect x="638.3" y="972.1" width="18.6" height="24.5" fill="#ffa040" stroke="#000" stroke-width="1.4"/>
<rect x="667.7" y="962.4" width="18.6" height="34.2" fill="#9c9c40" stroke="#000" stroke-width="1.4"/>
<rect x="697" y="922.1" width="18.6" height="74.5" fill="#4070a8" stroke="#000" stroke-width="1.4"/>
<rect x="726.3" y="914.4" width="18.6" height="82.2" fill="#ff3b3b" stroke="#000" stroke-width="1.4"/>
<path d="M589.45 964.2V991.3M584.45 964.2H594.45M584.45 991.3H594.45" stroke="#222" stroke-width="1.2" fill="none"/>
<path d="M618.55 939.4V984.1M613.55 939.4H623.55M613.55 984.1H623.55" stroke="#222" stroke-width="1.2" fill="none"/>
<path d="M647.6 961.2V983M642.6 961.2H652.6M642.6 983H652.6" stroke="#222" stroke-width="1.2" fill="none"/>
<path d="M677 947.2V976.8M672 947.2H682M672 976.8H682" stroke="#222" stroke-width="1.2" fill="none"/>
<path d="M706.3 888.9V954.4M701.3 888.9H711.3M701.3 954.4H711.3" stroke="#222" stroke-width="1.2" fill="none"/>
<path d="M735.6 894V933.4M730.6 894H740.6M730.6 933.4H740.6" stroke="#222" stroke-width="1.2" fill="none"/>
<circle cx="589.1" cy="942" r="1.8" fill="#000"/>
<circle cx="589.1" cy="962.1" r="1.8" fill="#000"/>
<circle cx="581.3" cy="982.2" r="1.8" fill="#000"/>
<circle cx="585.3" cy="983.9" r="1.8" fill="#000"/>
<circle cx="589.3" cy="982.2" r="1.8" fill="#000"/>
<circle cx="593.3" cy="982.2" r="1.8" fill="#000"/>
<circle cx="596.8" cy="982.2" r="1.8" fill="#000"/>
<circle cx="585.3" cy="987.3" r="1.8" fill="#000"/>
<circle cx="592.8" cy="986.8" r="1.8" fill="#000"/>
<rect x="616.8" y="920.8" width="3.4" height="3.4" fill="#000"/>
<rect x="616.6" y="964.1" width="3.4" height="3.4" fill="#000"/>
<rect x="612.9" y="969.8" width="3.4" height="3.4" fill="#000"/>
<rect x="620.5" y="969.8" width="3.4" height="3.4" fill="#000"/>
<rect x="616.6" y="976.5" width="3.4" height="3.4" fill="#000"/>
<polygon points="647.5,937.04 645.5,940.52 649.5,940.52" fill="#000"/>
<polygon points="655.8,965.64 653.8,969.12 657.8,969.12" fill="#000"/>
<polygon points="640,967.84 638,971.32 642,971.32" fill="#000"/>
<polygon points="643,967.84 641,971.32 645,971.32" fill="#000"/>
<polygon points="646,967.84 644,971.32 648,971.32" fill="#000"/>
<polygon points="650,967.84 648,971.32 652,971.32" fill="#000"/>
<polygon points="653,967.84 651,971.32 655,971.32" fill="#000"/>
<polygon points="643.5,974.34 641.5,977.82 645.5,977.82" fill="#000"/>
<polygon points="646.5,973.34 644.5,976.82 648.5,976.82" fill="#000"/>
<polygon points="649.5,974.84 647.5,978.32 651.5,978.32" fill="#000"/>
<polygon points="652,973.84 650,977.32 654,977.32" fill="#000"/>
<polygon points="655,974.84 653,978.32 657,978.32" fill="#000"/>
<polygon points="649.5,977.84 647.5,981.32 651.5,981.32" fill="#000"/>
<polygon points="647,981.84 645,985.32 649,985.32" fill="#000"/>
<polygon points="676.9,940.16 674.9,936.68 678.9,936.68" fill="#000"/>
<polygon points="672.9,949.76 670.9,946.28 674.9,946.28" fill="#000"/>
<polygon points="681,949.16 679,945.68 683,945.68" fill="#000"/>
<polygon points="669,960.86 667,957.38 671,957.38" fill="#000"/>
<polygon points="676.9,959.96 674.9,956.48 678.9,956.48" fill="#000"/>
<polygon points="684.9,963.26 682.9,959.78 686.9,959.78" fill="#000"/>
<polygon points="684.9,974.36 682.9,970.88 686.9,970.88" fill="#000"/>
<polygon points="676.9,975.66 674.9,972.18 678.9,972.18" fill="#000"/>
<polygon points="672.9,981.16 670.9,977.68 674.9,977.68" fill="#000"/>
<polygon points="681,980.56 679,977.08 683,977.08" fill="#000"/>
<polygon points="706.1,832.7 708,834.6 706.1,836.5 704.2,834.6" fill="#000"/>
<polygon points="701.9,902.7 703.8,904.6 701.9,906.5 700,904.6" fill="#000"/>
<polygon points="709.8,899.9 711.7,901.8 709.8,903.7 707.9,901.8" fill="#000"/>
<polygon points="706.1,924.8 708,926.7 706.1,928.6 704.2,926.7" fill="#000"/>
<polygon points="698.7,927.1 700.6,929 698.7,930.9 696.8,929" fill="#000"/>
<polygon points="713.9,928.5 715.8,930.4 713.9,932.3 712,930.4" fill="#000"/>
<polygon points="706.1,929.6 708,931.5 706.1,933.4 704.2,931.5" fill="#000"/>
<polygon points="698.7,938.3 700.6,940.2 698.7,942.1 696.8,940.2" fill="#000"/>
<polygon points="713.9,938.3 715.8,940.2 713.9,942.1 712,940.2" fill="#000"/>
<polygon points="706.1,941.5 708,943.4 706.1,945.3 704.2,943.4" fill="#000"/>
<polygon points="706.1,954 708,955.9 706.1,957.8 704.2,955.9" fill="#000"/>
<circle cx="735.5" cy="879.8" r="1.8" fill="#000"/>
<circle cx="731.4" cy="907.5" r="1.8" fill="#000"/>
<circle cx="739.7" cy="907.3" r="1.8" fill="#000"/>
<circle cx="739.7" cy="910.8" r="1.8" fill="#000"/>
<circle cx="735.5" cy="919" r="1.8" fill="#000"/>
<circle cx="735.5" cy="928.2" r="1.8" fill="#000"/>
<circle cx="735.5" cy="943.4" r="1.8" fill="#000"/>
<line x1="569.9" y1="823.8" x2="569.9" y2="997.45" stroke="#000" stroke-width="1.7"/>
<line x1="569.05" y1="996.6" x2="756" y2="996.6" stroke="#000" stroke-width="1.7"/>
<line x1="566.1" y1="996.6" x2="569.9" y2="996.6" stroke="#000" stroke-width="1.3"/>
<line x1="566.1" y1="953.52" x2="569.9" y2="953.52" stroke="#000" stroke-width="1.3"/>
<line x1="566.1" y1="910.45" x2="569.9" y2="910.45" stroke="#000" stroke-width="1.3"/>
<line x1="566.1" y1="867.38" x2="569.9" y2="867.38" stroke="#000" stroke-width="1.3"/>
<line x1="566.1" y1="824.3" x2="569.9" y2="824.3" stroke="#000" stroke-width="1.3"/>
<line x1="589.45" y1="996.6" x2="589.45" y2="1002.1" stroke="#000" stroke-width="1.3"/>
<line x1="618.55" y1="996.6" x2="618.55" y2="1002.1" stroke="#000" stroke-width="1.3"/>
<line x1="647.6" y1="996.6" x2="647.6" y2="1002.1" stroke="#000" stroke-width="1.3"/>
<line x1="677" y1="996.6" x2="677" y2="1002.1" stroke="#000" stroke-width="1.3"/>
<line x1="706.3" y1="996.6" x2="706.3" y2="1002.1" stroke="#000" stroke-width="1.3"/>
<line x1="735.6" y1="996.6" x2="735.6" y2="1002.1" stroke="#000" stroke-width="1.3"/>
<text x="563.5" y="1000.02" font-size="9.5" font-weight="normal" text-anchor="end" textLength="5.6" lengthAdjust="spacingAndGlyphs">0</text>
<text x="563.5" y="956.94" font-size="9.5" font-weight="normal" text-anchor="end" textLength="5.6" lengthAdjust="spacingAndGlyphs">5</text>
<text x="563.5" y="913.87" font-size="9.5" font-weight="normal" text-anchor="end" textLength="11.2" lengthAdjust="spacingAndGlyphs">10</text>
<text x="563.5" y="870.79" font-size="9.5" font-weight="normal" text-anchor="end" textLength="11.2" lengthAdjust="spacingAndGlyphs">15</text>
<text x="563.5" y="827.72" font-size="9.5" font-weight="normal" text-anchor="end" textLength="11.2" lengthAdjust="spacingAndGlyphs">20</text>
<polyline points="587.1,769.7 587.1,765.2 705.2,765.2 705.2,769.7" fill="none" stroke="#000" stroke-width="1.6"/>
<text x="646.15" y="765.6" font-size="16.5" font-weight="bold" text-anchor="middle" textLength="14.2" lengthAdjust="spacing">**</text>
<polyline points="587.1,782.7 587.1,778.2 739.6,778.2 739.6,782.7" fill="none" stroke="#000" stroke-width="1.6"/>
<text x="663.35" y="778.6" font-size="16.5" font-weight="bold" text-anchor="middle" textLength="14.2" lengthAdjust="spacing">**</text>
<polyline points="619.1,798.7 619.1,794.2 739.6,794.2 739.6,798.7" fill="none" stroke="#000" stroke-width="1.6"/>
<text x="679.35" y="794.6" font-size="16.5" font-weight="bold" text-anchor="middle" textLength="14.2" lengthAdjust="spacing">**</text>
<polyline points="646,812.5 646,808 739.6,808 739.6,812.5" fill="none" stroke="#000" stroke-width="1.6"/>
<text x="692.8" y="808.4" font-size="16.5" font-weight="bold" text-anchor="middle" textLength="14.2" lengthAdjust="spacing">**</text>
<polyline points="675.4,827.8 675.4,823.3 739.6,823.3 739.6,827.8" fill="none" stroke="#000" stroke-width="1.6"/>
<text x="707.5" y="823.7" font-size="16.5" font-weight="bold" text-anchor="middle" textLength="14.2" lengthAdjust="spacing">**</text>
<text x="0" y="0" font-size="15" font-weight="bold" text-anchor="middle" transform="translate(547.4,910.3) rotate(-90)" textLength="163" lengthAdjust="spacingAndGlyphs">AoV leaflets area (x10<tspan font-size="10" dy="-6">4</tspan><tspan dy="6">µm</tspan><tspan font-size="10" dy="-6">2</tspan><tspan dy="6">)</tspan></text>
<text x="0" y="0" font-size="10.2" font-weight="bold" font-style="normal" text-anchor="end" transform="translate(591.95,1008.5) rotate(-45)"><tspan>Wildtype</tspan></text>
<text x="0" y="0" font-size="10.2" font-weight="bold" font-style="normal" text-anchor="end" transform="translate(621.05,1008.5) rotate(-45)"><tspan>Notch1</tspan><tspan font-size="6.32" dy="-5.1">+/-</tspan></text>
<text x="0" y="0" font-size="10.2" font-weight="bold" font-style="normal" text-anchor="end" transform="translate(650.1,1008.5) rotate(-45)"><tspan>Gata5</tspan><tspan font-size="6.32" dy="-5.1">+/-</tspan></text>
<text x="0" y="0" font-size="10.2" font-weight="bold" font-style="normal" text-anchor="end" transform="translate(679.5,1008.5) rotate(-45)"><tspan>Gata5</tspan><tspan font-size="6.32" dy="-5.1">-/-</tspan></text>
<text x="0" y="0" font-size="10.2" font-weight="bold" font-style="normal" text-anchor="end" transform="translate(708.8,1008.5) rotate(-45)"><tspan>Notch1</tspan><tspan font-size="6.32" dy="-5.1">+/-</tspan><tspan font-size="10.2" dy="5.1">; Gata5</tspan><tspan font-size="6.32" dy="-5.1">+/-</tspan></text>
<text x="0" y="0" font-size="10.2" font-weight="bold" font-style="normal" text-anchor="end" transform="translate(738.1,1008.5) rotate(-45)"><tspan>Notch1</tspan><tspan font-size="6.32" dy="-5.1">+/-</tspan><tspan font-size="10.2" dy="5.1">; Gata5</tspan><tspan font-size="6.32" dy="-5.1">-/-</tspan></text>
</svg></body></html>
